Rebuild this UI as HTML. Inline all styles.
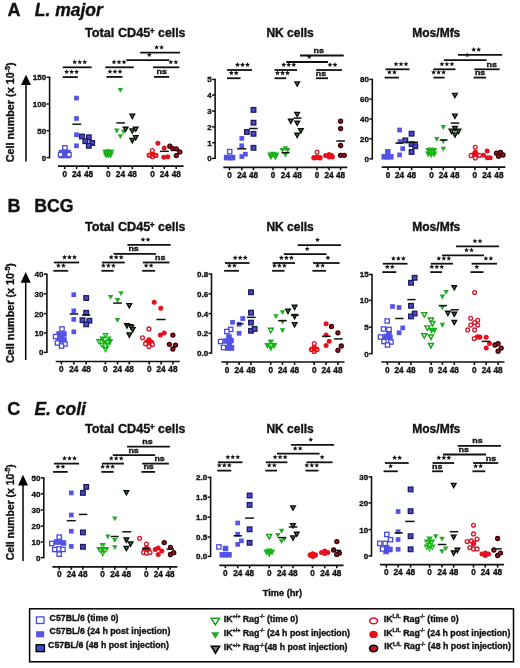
<!DOCTYPE html>
<html><head><meta charset="utf-8"><style>
html,body{margin:0;padding:0;background:#fff;}
body{width:520px;height:668px;overflow:hidden;}
svg{display:block;will-change:transform;}
text{font-family:"Liberation Sans", sans-serif;stroke:#111;stroke-width:0.35px;paint-order:stroke;}
</style></head><body>
<svg width="520" height="668" viewBox="0 0 520 668" font-family='"Liberation Sans", sans-serif' fill="#111">
<rect width="520" height="668" fill="#fff"/>
<text x="7.6" y="16.3" font-size="18" text-anchor="start" font-weight="bold" font-style="normal" >A</text>
<text x="34.8" y="16.4" font-size="17.5" text-anchor="start" font-weight="bold" font-style="italic" >L. major</text>
<text x="7.6" y="212.1" font-size="18" text-anchor="start" font-weight="bold" font-style="normal" >B</text>
<text x="34.3" y="212.1" font-size="17.7" text-anchor="start" font-weight="bold" font-style="normal" >BCG</text>
<text x="7.3" y="415.4" font-size="18" text-anchor="start" font-weight="bold" font-style="normal" >C</text>
<text x="34.4" y="415.4" font-size="17.5" text-anchor="start" font-weight="bold" font-style="italic" >E. coli</text>
<text x="85" y="37" font-size="12.7" text-anchor="start" font-weight="bold" font-style="normal" >Total CD45</text>
<text x="149.8" y="33.9" font-size="8.4" text-anchor="start" font-weight="bold" font-style="normal" >+</text>
<text x="158.1" y="37" font-size="12.3" text-anchor="start" font-weight="bold" font-style="normal" >cells</text>
<text x="290.1" y="36.6" font-size="12" text-anchor="middle" font-weight="bold" font-style="normal" >NK cells</text>
<text x="436.3" y="36.6" font-size="12" text-anchor="middle" font-weight="bold" font-style="normal" >Mos/Mfs</text>
<text x="85" y="230.9" font-size="12.7" text-anchor="start" font-weight="bold" font-style="normal" >Total CD45</text>
<text x="149.8" y="227.8" font-size="8.4" text-anchor="start" font-weight="bold" font-style="normal" >+</text>
<text x="158.1" y="230.9" font-size="12.3" text-anchor="start" font-weight="bold" font-style="normal" >cells</text>
<text x="290.1" y="230.5" font-size="12" text-anchor="middle" font-weight="bold" font-style="normal" >NK cells</text>
<text x="436.3" y="230.5" font-size="12" text-anchor="middle" font-weight="bold" font-style="normal" >Mos/Mfs</text>
<text x="85" y="433" font-size="12.7" text-anchor="start" font-weight="bold" font-style="normal" >Total CD45</text>
<text x="149.8" y="429.9" font-size="8.4" text-anchor="start" font-weight="bold" font-style="normal" >+</text>
<text x="158.1" y="433" font-size="12.3" text-anchor="start" font-weight="bold" font-style="normal" >cells</text>
<text x="290.1" y="432.6" font-size="12" text-anchor="middle" font-weight="bold" font-style="normal" >NK cells</text>
<text x="436.3" y="432.6" font-size="12" text-anchor="middle" font-weight="bold" font-style="normal" >Mos/Mfs</text>
<line x1="49.6" y1="76.6" x2="49.6" y2="158.3" stroke="#111" stroke-width="1.6"/>
<line x1="46.6" y1="77.3" x2="49.6" y2="77.3" stroke="#111" stroke-width="1.5"/>
<text x="46.2" y="80.2" font-size="8" text-anchor="end" font-weight="bold" font-style="normal" >150</text>
<line x1="46.6" y1="104" x2="49.6" y2="104" stroke="#111" stroke-width="1.5"/>
<text x="46.2" y="106.9" font-size="8" text-anchor="end" font-weight="bold" font-style="normal" >100</text>
<line x1="46.6" y1="130.7" x2="49.6" y2="130.7" stroke="#111" stroke-width="1.5"/>
<text x="46.2" y="133.6" font-size="8" text-anchor="end" font-weight="bold" font-style="normal" >50</text>
<line x1="46.6" y1="157.6" x2="49.6" y2="157.6" stroke="#111" stroke-width="1.5"/>
<text x="46.2" y="160.5" font-size="8" text-anchor="end" font-weight="bold" font-style="normal" >0</text>
<line x1="58" y1="166.2" x2="183.6" y2="166.2" stroke="#111" stroke-width="1.7"/>
<line x1="64.7" y1="166.2" x2="64.7" y2="169.1" stroke="#111" stroke-width="1.6"/>
<text x="64.7" y="176.7" font-size="8.2" text-anchor="middle" font-weight="bold" font-style="normal" >0</text>
<line x1="76.6" y1="166.2" x2="76.6" y2="169.1" stroke="#111" stroke-width="1.6"/>
<text x="76.6" y="176.7" font-size="8.2" text-anchor="middle" font-weight="bold" font-style="normal" >24</text>
<line x1="88.5" y1="166.2" x2="88.5" y2="169.1" stroke="#111" stroke-width="1.6"/>
<text x="88.5" y="176.7" font-size="8.2" text-anchor="middle" font-weight="bold" font-style="normal" >48</text>
<line x1="108.2" y1="166.2" x2="108.2" y2="169.1" stroke="#111" stroke-width="1.6"/>
<text x="108.2" y="176.7" font-size="8.2" text-anchor="middle" font-weight="bold" font-style="normal" >0</text>
<line x1="120.4" y1="166.2" x2="120.4" y2="169.1" stroke="#111" stroke-width="1.6"/>
<text x="120.4" y="176.7" font-size="8.2" text-anchor="middle" font-weight="bold" font-style="normal" >24</text>
<line x1="132.3" y1="166.2" x2="132.3" y2="169.1" stroke="#111" stroke-width="1.6"/>
<text x="132.3" y="176.7" font-size="8.2" text-anchor="middle" font-weight="bold" font-style="normal" >48</text>
<line x1="152.5" y1="166.2" x2="152.5" y2="169.1" stroke="#111" stroke-width="1.6"/>
<text x="152.5" y="176.7" font-size="8.2" text-anchor="middle" font-weight="bold" font-style="normal" >0</text>
<line x1="164.3" y1="166.2" x2="164.3" y2="169.1" stroke="#111" stroke-width="1.6"/>
<text x="164.3" y="176.7" font-size="8.2" text-anchor="middle" font-weight="bold" font-style="normal" >24</text>
<line x1="176.2" y1="166.2" x2="176.2" y2="169.1" stroke="#111" stroke-width="1.6"/>
<text x="176.2" y="176.7" font-size="8.2" text-anchor="middle" font-weight="bold" font-style="normal" >48</text>
<rect x="58.75" y="149.75" width="5.5" height="5.5" fill="#5252e4"/>
<rect x="61.95" y="149.75" width="5.5" height="5.5" fill="#5252e4"/>
<rect x="65.25" y="149.75" width="5.5" height="5.5" fill="#5252e4"/>
<rect x="58.75" y="152.75" width="5.5" height="5.5" fill="#5252e4"/>
<rect x="61.95" y="152.75" width="5.5" height="5.5" fill="#5252e4"/>
<rect x="65.25" y="152.75" width="5.5" height="5.5" fill="#5252e4"/>
<rect x="62.75" y="145.65" width="4.3" height="4.3" fill="#fff" stroke="#4a4ad8" stroke-width="1.3"/>
<rect x="58.45" y="152.45" width="4.3" height="4.3" fill="#fff" stroke="#4a4ad8" stroke-width="1.3"/>
<rect x="66.85" y="152.45" width="4.3" height="4.3" fill="#fff" stroke="#4a4ad8" stroke-width="1.3"/>
<rect x="74.15" y="95.75" width="4.7" height="4.7" fill="#5454e6"/>
<rect x="74.15" y="116.15" width="4.7" height="4.7" fill="#5454e6"/>
<rect x="74.15" y="132.35" width="4.7" height="4.7" fill="#5454e6"/>
<rect x="74.15" y="143.45" width="4.7" height="4.7" fill="#5454e6"/>
<rect x="79.6" y="134.2" width="4.6" height="4.6" fill="#4a4ad0" stroke="#1c1c5a" stroke-width="1.3"/>
<rect x="86.5" y="135" width="4.6" height="4.6" fill="#4a4ad0" stroke="#1c1c5a" stroke-width="1.3"/>
<rect x="83" y="138.9" width="4.6" height="4.6" fill="#4a4ad0" stroke="#1c1c5a" stroke-width="1.3"/>
<rect x="89.9" y="140.7" width="4.6" height="4.6" fill="#4a4ad0" stroke="#1c1c5a" stroke-width="1.3"/>
<rect x="86.5" y="143.5" width="4.6" height="4.6" fill="#4a4ad0" stroke="#1c1c5a" stroke-width="1.3"/>
<polygon points="102.3,149.8 108.7,149.8 105.5,155.6" fill="#16b416" stroke="none" stroke-width="0" stroke-linejoin="miter"/>
<polygon points="105.1,149.3 111.5,149.3 108.3,155.1" fill="#16b416" stroke="none" stroke-width="0" stroke-linejoin="miter"/>
<polygon points="107.9,149.8 114.3,149.8 111.1,155.6" fill="#16b416" stroke="none" stroke-width="0" stroke-linejoin="miter"/>
<polygon points="102.8,152.6 109.2,152.6 106,158.4" fill="#16b416" stroke="none" stroke-width="0" stroke-linejoin="miter"/>
<polygon points="107.3,152.6 113.7,152.6 110.5,158.4" fill="#16b416" stroke="none" stroke-width="0" stroke-linejoin="miter"/>
<polygon points="105.1,152.7 111.5,152.7 108.3,158.5" fill="#16b416" stroke="none" stroke-width="0" stroke-linejoin="miter"/>
<polygon points="117.7,87.95 123.1,87.95 120.4,92.85" fill="#22aa22" stroke="none" stroke-width="0" stroke-linejoin="miter"/>
<polygon points="114.1,128.55 119.5,128.55 116.8,133.45" fill="#22aa22" stroke="none" stroke-width="0" stroke-linejoin="miter"/>
<polygon points="120.9,129.65 126.3,129.65 123.6,134.55" fill="#22aa22" stroke="none" stroke-width="0" stroke-linejoin="miter"/>
<polygon points="117.7,134.15 123.1,134.15 120.4,139.05" fill="#22aa22" stroke="none" stroke-width="0" stroke-linejoin="miter"/>
<polygon points="130,114.3 134.6,114.3 132.3,118.5" fill="#5f825f" stroke="#061006" stroke-width="1.4" stroke-linejoin="miter"/>
<polygon points="123.3,127.2 127.9,127.2 125.6,131.4" fill="#5f825f" stroke="#061006" stroke-width="1.4" stroke-linejoin="miter"/>
<polygon points="130,128.9 134.6,128.9 132.3,133.1" fill="#5f825f" stroke="#061006" stroke-width="1.4" stroke-linejoin="miter"/>
<polygon points="133.4,127.2 138,127.2 135.7,131.4" fill="#5f825f" stroke="#061006" stroke-width="1.4" stroke-linejoin="miter"/>
<polygon points="133.4,135.6 138,135.6 135.7,139.8" fill="#5f825f" stroke="#061006" stroke-width="1.4" stroke-linejoin="miter"/>
<polygon points="130,138.5 134.6,138.5 132.3,142.7" fill="#5f825f" stroke="#061006" stroke-width="1.4" stroke-linejoin="miter"/>
<circle cx="149.3" cy="155.2" r="2.7" fill="#ea1018"/>
<circle cx="152.5" cy="154" r="2.7" fill="#ea1018"/>
<circle cx="155.8" cy="155.4" r="2.7" fill="#ea1018"/>
<circle cx="152.5" cy="156.6" r="2.7" fill="#ea1018"/>
<circle cx="149.2" cy="155.4" r="0.8" fill="#fff" opacity="0.85"/>
<circle cx="155.9" cy="155.6" r="0.8" fill="#fff" opacity="0.85"/>
<circle cx="152.5" cy="157.2" r="0.8" fill="#fff" opacity="0.85"/>
<circle cx="152.3" cy="150.6" r="1.9" fill="#fff" stroke="#d41428" stroke-width="1.3"/>
<circle cx="157.9" cy="143.2" r="2.5" fill="#e61020"/>
<circle cx="164.2" cy="148" r="2.5" fill="#e61020"/>
<circle cx="163.8" cy="157.3" r="2.5" fill="#e61020"/>
<circle cx="167.7" cy="156.8" r="2.5" fill="#e61020"/>
<circle cx="169.8" cy="146.2" r="2.0" fill="#a81424" stroke="#300004" stroke-width="1.3"/>
<circle cx="172.8" cy="148.7" r="2.0" fill="#a81424" stroke="#300004" stroke-width="1.3"/>
<circle cx="176.3" cy="148.8" r="2.0" fill="#a81424" stroke="#300004" stroke-width="1.3"/>
<circle cx="179.8" cy="151.9" r="2.0" fill="#a81424" stroke="#300004" stroke-width="1.3"/>
<circle cx="176.3" cy="155.6" r="2.0" fill="#a81424" stroke="#300004" stroke-width="1.3"/>
<line x1="72.4" y1="124.2" x2="81.2" y2="124.2" stroke="#111" stroke-width="1.5"/>
<line x1="116.3" y1="122.9" x2="124.9" y2="122.9" stroke="#111" stroke-width="1.5"/>
<line x1="160.1" y1="151.3" x2="168.8" y2="151.3" stroke="#111" stroke-width="1.5"/>
<line x1="62.7" y1="67.3" x2="91.7" y2="67.3" stroke="#111" stroke-width="1.8"/>
<polygon points="74.7,59.5 75.38,61.17 77.17,61.3 75.79,62.46 76.23,64.2 74.7,63.25 73.17,64.2 73.61,62.46 72.23,61.3 74.02,61.17" fill="#111"/>
<polygon points="79.7,59.5 80.38,61.17 82.17,61.3 80.79,62.46 81.23,64.2 79.7,63.25 78.17,64.2 78.61,62.46 77.23,61.3 79.02,61.17" fill="#111"/>
<polygon points="84.7,59.5 85.38,61.17 87.17,61.3 85.79,62.46 86.23,64.2 84.7,63.25 83.17,64.2 83.61,62.46 82.23,61.3 84.02,61.17" fill="#111"/>
<line x1="62.7" y1="77.1" x2="77.9" y2="77.1" stroke="#111" stroke-width="1.8"/>
<polygon points="66.6,69.3 67.28,70.97 69.07,71.1 67.69,72.26 68.13,74 66.6,73.05 65.07,74 65.51,72.26 64.13,71.1 65.92,70.97" fill="#111"/>
<polygon points="71.6,69.3 72.28,70.97 74.07,71.1 72.69,72.26 73.13,74 71.6,73.05 70.07,74 70.51,72.26 69.13,71.1 70.92,70.97" fill="#111"/>
<polygon points="76.6,69.3 77.28,70.97 79.07,71.1 77.69,72.26 78.13,74 76.6,73.05 75.07,74 75.51,72.26 74.13,71.1 75.92,70.97" fill="#111"/>
<line x1="105.2" y1="67.3" x2="133.7" y2="67.3" stroke="#111" stroke-width="1.8"/>
<polygon points="114,59.5 114.68,61.17 116.47,61.3 115.09,62.46 115.53,64.2 114,63.25 112.47,64.2 112.91,62.46 111.53,61.3 113.32,61.17" fill="#111"/>
<polygon points="119,59.5 119.68,61.17 121.47,61.3 120.09,62.46 120.53,64.2 119,63.25 117.47,64.2 117.91,62.46 116.53,61.3 118.32,61.17" fill="#111"/>
<polygon points="124,59.5 124.68,61.17 126.47,61.3 125.09,62.46 125.53,64.2 124,63.25 122.47,64.2 122.91,62.46 121.53,61.3 123.32,61.17" fill="#111"/>
<line x1="106.4" y1="76.9" x2="122.5" y2="76.9" stroke="#111" stroke-width="1.8"/>
<polygon points="110,69.1 110.68,70.77 112.47,70.9 111.09,72.06 111.53,73.8 110,72.85 108.47,73.8 108.91,72.06 107.53,70.9 109.32,70.77" fill="#111"/>
<polygon points="115,69.1 115.68,70.77 117.47,70.9 116.09,72.06 116.53,73.8 115,72.85 113.47,73.8 113.91,72.06 112.53,70.9 114.32,70.77" fill="#111"/>
<polygon points="120,69.1 120.68,70.77 122.47,70.9 121.09,72.06 121.53,73.8 120,72.85 118.47,73.8 118.91,72.06 117.53,70.9 119.32,70.77" fill="#111"/>
<line x1="153.1" y1="67.3" x2="179.3" y2="67.3" stroke="#111" stroke-width="1.8"/>
<polygon points="170.8,59.5 171.48,61.17 173.27,61.3 171.89,62.46 172.33,64.2 170.8,63.25 169.27,64.2 169.71,62.46 168.33,61.3 170.12,61.17" fill="#111"/>
<polygon points="175.8,59.5 176.48,61.17 178.27,61.3 176.89,62.46 177.33,64.2 175.8,63.25 174.27,64.2 174.71,62.46 173.33,61.3 175.12,61.17" fill="#111"/>
<line x1="154" y1="76.9" x2="169.2" y2="76.9" stroke="#111" stroke-width="1.8"/>
<text transform="translate(161.8,74.4) scale(1.13,1)" font-size="7.9" text-anchor="middle" font-weight="bold">ns</text>
<line x1="126.3" y1="60.1" x2="169.2" y2="60.1" stroke="#111" stroke-width="1.8"/>
<polygon points="149.3,52.3 149.98,53.97 151.77,54.1 150.39,55.26 150.83,57 149.3,56.05 147.77,57 148.21,55.26 146.83,54.1 148.62,53.97" fill="#111"/>
<line x1="140.2" y1="52.6" x2="180" y2="52.6" stroke="#111" stroke-width="1.8"/>
<polygon points="156.6,44.8 157.28,46.47 159.07,46.6 157.69,47.76 158.13,49.5 156.6,48.55 155.07,49.5 155.51,47.76 154.13,46.6 155.92,46.47" fill="#111"/>
<polygon points="161.6,44.8 162.28,46.47 164.07,46.6 162.69,47.76 163.13,49.5 161.6,48.55 160.07,49.5 160.51,47.76 159.13,46.6 160.92,46.47" fill="#111"/>
<line x1="215.1" y1="78.7" x2="215.1" y2="159.1" stroke="#111" stroke-width="1.6"/>
<line x1="212.1" y1="79.4" x2="215.1" y2="79.4" stroke="#111" stroke-width="1.5"/>
<text x="211.7" y="82.3" font-size="8" text-anchor="end" font-weight="bold" font-style="normal" >5</text>
<line x1="212.1" y1="95.1" x2="215.1" y2="95.1" stroke="#111" stroke-width="1.5"/>
<text x="211.7" y="98" font-size="8" text-anchor="end" font-weight="bold" font-style="normal" >4</text>
<line x1="212.1" y1="111.1" x2="215.1" y2="111.1" stroke="#111" stroke-width="1.5"/>
<text x="211.7" y="114" font-size="8" text-anchor="end" font-weight="bold" font-style="normal" >3</text>
<line x1="212.1" y1="126.9" x2="215.1" y2="126.9" stroke="#111" stroke-width="1.5"/>
<text x="211.7" y="129.8" font-size="8" text-anchor="end" font-weight="bold" font-style="normal" >2</text>
<line x1="212.1" y1="142.7" x2="215.1" y2="142.7" stroke="#111" stroke-width="1.5"/>
<text x="211.7" y="145.6" font-size="8" text-anchor="end" font-weight="bold" font-style="normal" >1</text>
<line x1="212.1" y1="158.4" x2="215.1" y2="158.4" stroke="#111" stroke-width="1.5"/>
<text x="211.7" y="161.3" font-size="8" text-anchor="end" font-weight="bold" font-style="normal" >0</text>
<line x1="223.3" y1="167.3" x2="347.3" y2="167.3" stroke="#111" stroke-width="1.7"/>
<line x1="229.5" y1="167.3" x2="229.5" y2="170.2" stroke="#111" stroke-width="1.6"/>
<text x="229.5" y="177.8" font-size="8.2" text-anchor="middle" font-weight="bold" font-style="normal" >0</text>
<line x1="241.8" y1="167.3" x2="241.8" y2="170.2" stroke="#111" stroke-width="1.6"/>
<text x="241.8" y="177.8" font-size="8.2" text-anchor="middle" font-weight="bold" font-style="normal" >24</text>
<line x1="253.5" y1="167.3" x2="253.5" y2="170.2" stroke="#111" stroke-width="1.6"/>
<text x="253.5" y="177.8" font-size="8.2" text-anchor="middle" font-weight="bold" font-style="normal" >48</text>
<line x1="273" y1="167.3" x2="273" y2="170.2" stroke="#111" stroke-width="1.6"/>
<text x="273" y="177.8" font-size="8.2" text-anchor="middle" font-weight="bold" font-style="normal" >0</text>
<line x1="285.4" y1="167.3" x2="285.4" y2="170.2" stroke="#111" stroke-width="1.6"/>
<text x="285.4" y="177.8" font-size="8.2" text-anchor="middle" font-weight="bold" font-style="normal" >24</text>
<line x1="297.2" y1="167.3" x2="297.2" y2="170.2" stroke="#111" stroke-width="1.6"/>
<text x="297.2" y="177.8" font-size="8.2" text-anchor="middle" font-weight="bold" font-style="normal" >48</text>
<line x1="317" y1="167.3" x2="317" y2="170.2" stroke="#111" stroke-width="1.6"/>
<text x="317" y="177.8" font-size="8.2" text-anchor="middle" font-weight="bold" font-style="normal" >0</text>
<line x1="329.1" y1="167.3" x2="329.1" y2="170.2" stroke="#111" stroke-width="1.6"/>
<text x="329.1" y="177.8" font-size="8.2" text-anchor="middle" font-weight="bold" font-style="normal" >24</text>
<line x1="340.6" y1="167.3" x2="340.6" y2="170.2" stroke="#111" stroke-width="1.6"/>
<text x="340.6" y="177.8" font-size="8.2" text-anchor="middle" font-weight="bold" font-style="normal" >48</text>
<rect x="223.85" y="154.85" width="5.5" height="5.5" fill="#5252e4"/>
<rect x="226.85" y="154.85" width="5.5" height="5.5" fill="#5252e4"/>
<rect x="229.85" y="154.85" width="5.5" height="5.5" fill="#5252e4"/>
<rect x="227.55" y="149.45" width="4.3" height="4.3" fill="#fff" stroke="#4a4ad8" stroke-width="1.3"/>
<rect x="239.45" y="136.05" width="4.7" height="4.7" fill="#5454e6"/>
<rect x="239.45" y="143.45" width="4.7" height="4.7" fill="#5454e6"/>
<rect x="239.45" y="154.15" width="4.7" height="4.7" fill="#5454e6"/>
<rect x="243.05" y="151.85" width="4.7" height="4.7" fill="#5454e6"/>
<rect x="244.6" y="129.6" width="4.6" height="4.6" fill="#4a4ad0" stroke="#1c1c5a" stroke-width="1.3"/>
<rect x="251.2" y="107.6" width="4.6" height="4.6" fill="#4a4ad0" stroke="#1c1c5a" stroke-width="1.3"/>
<rect x="251.2" y="120.4" width="4.6" height="4.6" fill="#4a4ad0" stroke="#1c1c5a" stroke-width="1.3"/>
<rect x="251.2" y="131.5" width="4.6" height="4.6" fill="#4a4ad0" stroke="#1c1c5a" stroke-width="1.3"/>
<rect x="251.2" y="145.5" width="4.6" height="4.6" fill="#4a4ad0" stroke="#1c1c5a" stroke-width="1.3"/>
<polygon points="270,151.7 276.4,151.7 273.2,157.5" fill="#16b416" stroke="none" stroke-width="0" stroke-linejoin="miter"/>
<polygon points="267.2,152.5 273.6,152.5 270.4,158.3" fill="#16b416" stroke="none" stroke-width="0" stroke-linejoin="miter"/>
<polygon points="272.8,152.5 279.2,152.5 276,158.3" fill="#16b416" stroke="none" stroke-width="0" stroke-linejoin="miter"/>
<polygon points="267.8,154.5 274.2,154.5 271,160.3" fill="#16b416" stroke="none" stroke-width="0" stroke-linejoin="miter"/>
<polygon points="272.2,154.5 278.6,154.5 275.4,160.3" fill="#16b416" stroke="none" stroke-width="0" stroke-linejoin="miter"/>
<polygon points="282.7,146.35 288.1,146.35 285.4,151.25" fill="#22aa22" stroke="none" stroke-width="0" stroke-linejoin="miter"/>
<polygon points="279.6,147.95 285,147.95 282.3,152.85" fill="#22aa22" stroke="none" stroke-width="0" stroke-linejoin="miter"/>
<polygon points="285,147.95 290.4,147.95 287.7,152.85" fill="#22aa22" stroke="none" stroke-width="0" stroke-linejoin="miter"/>
<polygon points="282.7,152.55 288.1,152.55 285.4,157.45" fill="#22aa22" stroke="none" stroke-width="0" stroke-linejoin="miter"/>
<polygon points="294.9,81.9 299.5,81.9 297.2,86.1" fill="#5f825f" stroke="#061006" stroke-width="1.4" stroke-linejoin="miter"/>
<polygon points="294.9,112.4 299.5,112.4 297.2,116.6" fill="#5f825f" stroke="#061006" stroke-width="1.4" stroke-linejoin="miter"/>
<polygon points="288.5,119.1 293.1,119.1 290.8,123.3" fill="#5f825f" stroke="#061006" stroke-width="1.4" stroke-linejoin="miter"/>
<polygon points="294.9,121.2 299.5,121.2 297.2,125.4" fill="#5f825f" stroke="#061006" stroke-width="1.4" stroke-linejoin="miter"/>
<polygon points="298.6,128.6 303.2,128.6 300.9,132.8" fill="#5f825f" stroke="#061006" stroke-width="1.4" stroke-linejoin="miter"/>
<polygon points="294.9,133.3 299.5,133.3 297.2,137.5" fill="#5f825f" stroke="#061006" stroke-width="1.4" stroke-linejoin="miter"/>
<circle cx="314" cy="157.7" r="2.7" fill="#ea1018"/>
<circle cx="317" cy="157.5" r="2.7" fill="#ea1018"/>
<circle cx="320" cy="157.7" r="2.7" fill="#ea1018"/>
<circle cx="317.1" cy="152.2" r="1.9" fill="#fff" stroke="#d41428" stroke-width="1.3"/>
<circle cx="325.6" cy="155.6" r="2.5" fill="#e61020"/>
<circle cx="329" cy="154.6" r="2.5" fill="#e61020"/>
<circle cx="331.6" cy="155.4" r="2.5" fill="#e61020"/>
<circle cx="329" cy="157" r="2.5" fill="#e61020"/>
<circle cx="332.4" cy="157" r="2.5" fill="#e61020"/>
<circle cx="340.6" cy="121.2" r="2.0" fill="#a81424" stroke="#300004" stroke-width="1.3"/>
<circle cx="340.6" cy="128.6" r="2.0" fill="#a81424" stroke="#300004" stroke-width="1.3"/>
<circle cx="340.6" cy="145.5" r="2.0" fill="#a81424" stroke="#300004" stroke-width="1.3"/>
<circle cx="340.6" cy="155.3" r="2.0" fill="#a81424" stroke="#300004" stroke-width="1.3"/>
<circle cx="344.3" cy="155.3" r="2.0" fill="#a81424" stroke="#300004" stroke-width="1.3"/>
<line x1="237.2" y1="148.8" x2="246.2" y2="148.8" stroke="#111" stroke-width="1.5"/>
<line x1="249.2" y1="128.5" x2="257.7" y2="128.5" stroke="#111" stroke-width="1.5"/>
<line x1="281.5" y1="152.7" x2="289.5" y2="152.7" stroke="#111" stroke-width="1.5"/>
<line x1="293.5" y1="118.1" x2="301.5" y2="118.1" stroke="#111" stroke-width="1.5"/>
<line x1="336.3" y1="141" x2="344.9" y2="141" stroke="#111" stroke-width="1.5"/>
<line x1="227" y1="70" x2="252" y2="70" stroke="#111" stroke-width="1.8"/>
<polygon points="237.5,62.2 238.18,63.87 239.97,64 238.59,65.16 239.03,66.9 237.5,65.95 235.97,66.9 236.41,65.16 235.03,64 236.82,63.87" fill="#111"/>
<polygon points="242.5,62.2 243.18,63.87 244.97,64 243.59,65.16 244.03,66.9 242.5,65.95 240.97,66.9 241.41,65.16 240.03,64 241.82,63.87" fill="#111"/>
<polygon points="247.5,62.2 248.18,63.87 249.97,64 248.59,65.16 249.03,66.9 247.5,65.95 245.97,66.9 246.41,65.16 245.03,64 246.82,63.87" fill="#111"/>
<line x1="227" y1="78.25" x2="240.5" y2="78.25" stroke="#111" stroke-width="1.8"/>
<polygon points="231.25,70.45 231.93,72.12 233.72,72.25 232.34,73.41 232.78,75.15 231.25,74.2 229.72,75.15 230.16,73.41 228.78,72.25 230.57,72.12" fill="#111"/>
<polygon points="236.25,70.45 236.93,72.12 238.72,72.25 237.34,73.41 237.78,75.15 236.25,74.2 234.72,75.15 235.16,73.41 233.78,72.25 235.57,72.12" fill="#111"/>
<line x1="274.5" y1="70" x2="297" y2="70" stroke="#111" stroke-width="1.8"/>
<polygon points="283.75,62.2 284.43,63.87 286.22,64 284.84,65.16 285.28,66.9 283.75,65.95 282.22,66.9 282.66,65.16 281.28,64 283.07,63.87" fill="#111"/>
<polygon points="288.75,62.2 289.43,63.87 291.22,64 289.84,65.16 290.28,66.9 288.75,65.95 287.22,66.9 287.66,65.16 286.28,64 288.07,63.87" fill="#111"/>
<polygon points="293.75,62.2 294.43,63.87 296.22,64 294.84,65.16 295.28,66.9 293.75,65.95 292.22,66.9 292.66,65.16 291.28,64 293.07,63.87" fill="#111"/>
<line x1="274.5" y1="78.25" x2="286.25" y2="78.25" stroke="#111" stroke-width="1.8"/>
<polygon points="277.5,70.45 278.18,72.12 279.97,72.25 278.59,73.41 279.03,75.15 277.5,74.2 275.97,75.15 276.41,73.41 275.03,72.25 276.82,72.12" fill="#111"/>
<polygon points="282.5,70.45 283.18,72.12 284.97,72.25 283.59,73.41 284.03,75.15 282.5,74.2 280.97,75.15 281.41,73.41 280.03,72.25 281.82,72.12" fill="#111"/>
<polygon points="287.5,70.45 288.18,72.12 289.97,72.25 288.59,73.41 289.03,75.15 287.5,74.2 285.97,75.15 286.41,73.41 285.03,72.25 286.82,72.12" fill="#111"/>
<line x1="316.25" y1="70" x2="342" y2="70" stroke="#111" stroke-width="1.8"/>
<polygon points="330,62.2 330.68,63.87 332.47,64 331.09,65.16 331.53,66.9 330,65.95 328.47,66.9 328.91,65.16 327.53,64 329.32,63.87" fill="#111"/>
<polygon points="335,62.2 335.68,63.87 337.47,64 336.09,65.16 336.53,66.9 335,65.95 333.47,66.9 333.91,65.16 332.53,64 334.32,63.87" fill="#111"/>
<line x1="316" y1="78.25" x2="328" y2="78.25" stroke="#111" stroke-width="1.8"/>
<text transform="translate(321,75.75) scale(1.13,1)" font-size="7.9" text-anchor="middle" font-weight="bold">ns</text>
<line x1="286.25" y1="62" x2="328" y2="62" stroke="#111" stroke-width="1.8"/>
<polygon points="309.25,54.2 309.93,55.87 311.72,56 310.34,57.16 310.78,58.9 309.25,57.95 307.72,58.9 308.16,57.16 306.78,56 308.57,55.87" fill="#111"/>
<line x1="300" y1="55.5" x2="343.75" y2="55.5" stroke="#111" stroke-width="1.8"/>
<text transform="translate(318.75,53) scale(1.13,1)" font-size="7.9" text-anchor="middle" font-weight="bold">ns</text>
<line x1="372.3" y1="78.7" x2="372.3" y2="159.5" stroke="#111" stroke-width="1.6"/>
<line x1="369.3" y1="79.4" x2="372.3" y2="79.4" stroke="#111" stroke-width="1.5"/>
<text x="368.9" y="82.3" font-size="8" text-anchor="end" font-weight="bold" font-style="normal" >80</text>
<line x1="369.3" y1="99.1" x2="372.3" y2="99.1" stroke="#111" stroke-width="1.5"/>
<text x="368.9" y="102" font-size="8" text-anchor="end" font-weight="bold" font-style="normal" >60</text>
<line x1="369.3" y1="119" x2="372.3" y2="119" stroke="#111" stroke-width="1.5"/>
<text x="368.9" y="121.9" font-size="8" text-anchor="end" font-weight="bold" font-style="normal" >40</text>
<line x1="369.3" y1="138.7" x2="372.3" y2="138.7" stroke="#111" stroke-width="1.5"/>
<text x="368.9" y="141.6" font-size="8" text-anchor="end" font-weight="bold" font-style="normal" >20</text>
<line x1="369.3" y1="158.8" x2="372.3" y2="158.8" stroke="#111" stroke-width="1.5"/>
<text x="368.9" y="161.7" font-size="8" text-anchor="end" font-weight="bold" font-style="normal" >0</text>
<line x1="381.7" y1="167.2" x2="505.4" y2="167.2" stroke="#111" stroke-width="1.7"/>
<line x1="388" y1="167.2" x2="388" y2="170.1" stroke="#111" stroke-width="1.6"/>
<text x="388" y="177.7" font-size="8.2" text-anchor="middle" font-weight="bold" font-style="normal" >0</text>
<line x1="399.6" y1="167.2" x2="399.6" y2="170.1" stroke="#111" stroke-width="1.6"/>
<text x="399.6" y="177.7" font-size="8.2" text-anchor="middle" font-weight="bold" font-style="normal" >24</text>
<line x1="411.6" y1="167.2" x2="411.6" y2="170.1" stroke="#111" stroke-width="1.6"/>
<text x="411.6" y="177.7" font-size="8.2" text-anchor="middle" font-weight="bold" font-style="normal" >48</text>
<line x1="431.5" y1="167.2" x2="431.5" y2="170.1" stroke="#111" stroke-width="1.6"/>
<text x="431.5" y="177.7" font-size="8.2" text-anchor="middle" font-weight="bold" font-style="normal" >0</text>
<line x1="443.3" y1="167.2" x2="443.3" y2="170.1" stroke="#111" stroke-width="1.6"/>
<text x="443.3" y="177.7" font-size="8.2" text-anchor="middle" font-weight="bold" font-style="normal" >24</text>
<line x1="454.9" y1="167.2" x2="454.9" y2="170.1" stroke="#111" stroke-width="1.6"/>
<text x="454.9" y="177.7" font-size="8.2" text-anchor="middle" font-weight="bold" font-style="normal" >48</text>
<line x1="474.9" y1="167.2" x2="474.9" y2="170.1" stroke="#111" stroke-width="1.6"/>
<text x="474.9" y="177.7" font-size="8.2" text-anchor="middle" font-weight="bold" font-style="normal" >0</text>
<line x1="486.8" y1="167.2" x2="486.8" y2="170.1" stroke="#111" stroke-width="1.6"/>
<text x="486.8" y="177.7" font-size="8.2" text-anchor="middle" font-weight="bold" font-style="normal" >24</text>
<line x1="498.9" y1="167.2" x2="498.9" y2="170.1" stroke="#111" stroke-width="1.6"/>
<text x="498.9" y="177.7" font-size="8.2" text-anchor="middle" font-weight="bold" font-style="normal" >48</text>
<rect x="385.05" y="149.05" width="5.5" height="5.5" fill="#5252e4"/>
<rect x="381.45" y="154.05" width="5.5" height="5.5" fill="#5252e4"/>
<rect x="384.75" y="154.05" width="5.5" height="5.5" fill="#5252e4"/>
<rect x="388.05" y="154.05" width="5.5" height="5.5" fill="#5252e4"/>
<rect x="397.25" y="127.65" width="4.7" height="4.7" fill="#5454e6"/>
<rect x="397.65" y="139.15" width="4.7" height="4.7" fill="#5454e6"/>
<rect x="400.35" y="146.25" width="4.7" height="4.7" fill="#5454e6"/>
<rect x="397.25" y="152.55" width="4.7" height="4.7" fill="#5454e6"/>
<rect x="403" y="138.1" width="4.6" height="4.6" fill="#4a4ad0" stroke="#1c1c5a" stroke-width="1.3"/>
<rect x="409.3" y="131.4" width="4.6" height="4.6" fill="#4a4ad0" stroke="#1c1c5a" stroke-width="1.3"/>
<rect x="409.3" y="141.9" width="4.6" height="4.6" fill="#4a4ad0" stroke="#1c1c5a" stroke-width="1.3"/>
<rect x="413" y="143.9" width="4.6" height="4.6" fill="#4a4ad0" stroke="#1c1c5a" stroke-width="1.3"/>
<rect x="409.3" y="149.7" width="4.6" height="4.6" fill="#4a4ad0" stroke="#1c1c5a" stroke-width="1.3"/>
<polygon points="425.3,147.9 431.7,147.9 428.5,153.7" fill="#16b416" stroke="none" stroke-width="0" stroke-linejoin="miter"/>
<polygon points="428,147.4 434.4,147.4 431.2,153.2" fill="#16b416" stroke="none" stroke-width="0" stroke-linejoin="miter"/>
<polygon points="430.8,147.9 437.2,147.9 434,153.7" fill="#16b416" stroke="none" stroke-width="0" stroke-linejoin="miter"/>
<polygon points="425.1,151.6 431.5,151.6 428.3,157.4" fill="#16b416" stroke="none" stroke-width="0" stroke-linejoin="miter"/>
<polygon points="428,152.1 434.4,152.1 431.2,157.9" fill="#16b416" stroke="none" stroke-width="0" stroke-linejoin="miter"/>
<polygon points="430.9,151.6 437.3,151.6 434.1,157.4" fill="#16b416" stroke="none" stroke-width="0" stroke-linejoin="miter"/>
<polygon points="440.6,125.05 446,125.05 443.3,129.95" fill="#22aa22" stroke="none" stroke-width="0" stroke-linejoin="miter"/>
<polygon points="434.1,137.05 439.5,137.05 436.8,141.95" fill="#22aa22" stroke="none" stroke-width="0" stroke-linejoin="miter"/>
<polygon points="440.6,139.15 446,139.15 443.3,144.05" fill="#22aa22" stroke="none" stroke-width="0" stroke-linejoin="miter"/>
<polygon points="440.6,146.85 446,146.85 443.3,151.75" fill="#22aa22" stroke="none" stroke-width="0" stroke-linejoin="miter"/>
<polygon points="452.6,93.4 457.2,93.4 454.9,97.6" fill="#5f825f" stroke="#061006" stroke-width="1.4" stroke-linejoin="miter"/>
<polygon points="452.6,114.1 457.2,114.1 454.9,118.3" fill="#5f825f" stroke="#061006" stroke-width="1.4" stroke-linejoin="miter"/>
<polygon points="452.7,126.5 457.3,126.5 455,130.7" fill="#5f825f" stroke="#061006" stroke-width="1.4" stroke-linejoin="miter"/>
<polygon points="449.2,129.3 453.8,129.3 451.5,133.5" fill="#5f825f" stroke="#061006" stroke-width="1.4" stroke-linejoin="miter"/>
<polygon points="456.2,129.3 460.8,129.3 458.5,133.5" fill="#5f825f" stroke="#061006" stroke-width="1.4" stroke-linejoin="miter"/>
<polygon points="452.7,132.9 457.3,132.9 455,137.1" fill="#5f825f" stroke="#061006" stroke-width="1.4" stroke-linejoin="miter"/>
<circle cx="475.3" cy="152.5" r="2.7" fill="#ea1018"/>
<circle cx="473" cy="155" r="2.7" fill="#ea1018"/>
<circle cx="477.6" cy="155" r="2.7" fill="#ea1018"/>
<circle cx="475.3" cy="156.5" r="2.7" fill="#ea1018"/>
<circle cx="475.3" cy="147.3" r="1.9" fill="#fff" stroke="#d41428" stroke-width="1.3"/>
<circle cx="471" cy="155.6" r="1.9" fill="#fff" stroke="#d41428" stroke-width="1.3"/>
<circle cx="475.3" cy="158" r="1.9" fill="#fff" stroke="#d41428" stroke-width="1.3"/>
<circle cx="479.5" cy="155.6" r="1.9" fill="#fff" stroke="#d41428" stroke-width="1.3"/>
<circle cx="487.2" cy="150.9" r="2.5" fill="#e61020"/>
<circle cx="483.4" cy="155.3" r="2.5" fill="#e61020"/>
<circle cx="487.4" cy="157.8" r="2.5" fill="#e61020"/>
<circle cx="490.2" cy="157.8" r="2.5" fill="#e61020"/>
<circle cx="496.5" cy="153.2" r="2.0" fill="#a81424" stroke="#300004" stroke-width="1.3"/>
<circle cx="500.5" cy="152.5" r="2.0" fill="#a81424" stroke="#300004" stroke-width="1.3"/>
<circle cx="503" cy="155" r="2.0" fill="#a81424" stroke="#300004" stroke-width="1.3"/>
<circle cx="498.5" cy="156.2" r="2.0" fill="#a81424" stroke="#300004" stroke-width="1.3"/>
<line x1="395.4" y1="143.1" x2="403.2" y2="143.1" stroke="#111" stroke-width="1.5"/>
<line x1="406" y1="142.3" x2="418" y2="142.3" stroke="#111" stroke-width="1.5"/>
<line x1="439.7" y1="140" x2="447.6" y2="140" stroke="#111" stroke-width="1.5"/>
<line x1="450.8" y1="123.1" x2="459.3" y2="123.1" stroke="#111" stroke-width="1.5"/>
<line x1="385.4" y1="69.3" x2="409.5" y2="69.3" stroke="#111" stroke-width="1.8"/>
<polygon points="396,61.5 396.68,63.17 398.47,63.3 397.09,64.46 397.53,66.2 396,65.25 394.47,66.2 394.91,64.46 393.53,63.3 395.32,63.17" fill="#111"/>
<polygon points="401,61.5 401.68,63.17 403.47,63.3 402.09,64.46 402.53,66.2 401,65.25 399.47,66.2 399.91,64.46 398.53,63.3 400.32,63.17" fill="#111"/>
<polygon points="406,61.5 406.68,63.17 408.47,63.3 407.09,64.46 407.53,66.2 406,65.25 404.47,66.2 404.91,64.46 403.53,63.3 405.32,63.17" fill="#111"/>
<line x1="384.6" y1="77.6" x2="398.9" y2="77.6" stroke="#111" stroke-width="1.8"/>
<polygon points="389.4,69.8 390.08,71.47 391.87,71.6 390.49,72.76 390.93,74.5 389.4,73.55 387.87,74.5 388.31,72.76 386.93,71.6 388.72,71.47" fill="#111"/>
<polygon points="394.4,69.8 395.08,71.47 396.87,71.6 395.49,72.76 395.93,74.5 394.4,73.55 392.87,74.5 393.31,72.76 391.93,71.6 393.72,71.47" fill="#111"/>
<line x1="433.4" y1="69.3" x2="455.5" y2="69.3" stroke="#111" stroke-width="1.8"/>
<polygon points="441.9,61.5 442.58,63.17 444.37,63.3 442.99,64.46 443.43,66.2 441.9,65.25 440.37,66.2 440.81,64.46 439.43,63.3 441.22,63.17" fill="#111"/>
<polygon points="446.9,61.5 447.58,63.17 449.37,63.3 447.99,64.46 448.43,66.2 446.9,65.25 445.37,66.2 445.81,64.46 444.43,63.3 446.22,63.17" fill="#111"/>
<polygon points="451.9,61.5 452.58,63.17 454.37,63.3 452.99,64.46 453.43,66.2 451.9,65.25 450.37,66.2 450.81,64.46 449.43,63.3 451.22,63.17" fill="#111"/>
<line x1="433.4" y1="77.6" x2="444.6" y2="77.6" stroke="#111" stroke-width="1.8"/>
<polygon points="433.6,69.8 434.28,71.47 436.07,71.6 434.69,72.76 435.13,74.5 433.6,73.55 432.07,74.5 432.51,72.76 431.13,71.6 432.92,71.47" fill="#111"/>
<polygon points="438.6,69.8 439.28,71.47 441.07,71.6 439.69,72.76 440.13,74.5 438.6,73.55 437.07,74.5 437.51,72.76 436.13,71.6 437.92,71.47" fill="#111"/>
<polygon points="443.6,69.8 444.28,71.47 446.07,71.6 444.69,72.76 445.13,74.5 443.6,73.55 442.07,74.5 442.51,72.76 441.13,71.6 442.92,71.47" fill="#111"/>
<line x1="474.4" y1="69.3" x2="499.6" y2="69.3" stroke="#111" stroke-width="1.8"/>
<text transform="translate(491.8,66.8) scale(1.13,1)" font-size="7.9" text-anchor="middle" font-weight="bold">ns</text>
<line x1="473.6" y1="77.6" x2="486.1" y2="77.6" stroke="#111" stroke-width="1.8"/>
<text transform="translate(480.1,75.1) scale(1.13,1)" font-size="7.9" text-anchor="middle" font-weight="bold">ns</text>
<line x1="443.8" y1="60.2" x2="486.6" y2="60.2" stroke="#111" stroke-width="1.8"/>
<polygon points="467.2,52.4 467.88,54.07 469.67,54.2 468.29,55.36 468.73,57.1 467.2,56.15 465.67,57.1 466.11,55.36 464.73,54.2 466.52,54.07" fill="#111"/>
<line x1="458" y1="54.8" x2="502.2" y2="54.8" stroke="#111" stroke-width="1.8"/>
<polygon points="473.7,47 474.38,48.67 476.17,48.8 474.79,49.96 475.23,51.7 473.7,50.75 472.17,51.7 472.61,49.96 471.23,48.8 473.02,48.67" fill="#111"/>
<polygon points="478.7,47 479.38,48.67 481.17,48.8 479.79,49.96 480.23,51.7 478.7,50.75 477.17,51.7 477.61,49.96 476.23,48.8 478.02,48.67" fill="#111"/>
<line x1="46.9" y1="273.4" x2="46.9" y2="353.1" stroke="#111" stroke-width="1.6"/>
<line x1="43.9" y1="274.1" x2="46.9" y2="274.1" stroke="#111" stroke-width="1.5"/>
<text x="43.5" y="277" font-size="8" text-anchor="end" font-weight="bold" font-style="normal" >40</text>
<line x1="43.9" y1="293.8" x2="46.9" y2="293.8" stroke="#111" stroke-width="1.5"/>
<text x="43.5" y="296.7" font-size="8" text-anchor="end" font-weight="bold" font-style="normal" >30</text>
<line x1="43.9" y1="313.6" x2="46.9" y2="313.6" stroke="#111" stroke-width="1.5"/>
<text x="43.5" y="316.5" font-size="8" text-anchor="end" font-weight="bold" font-style="normal" >20</text>
<line x1="43.9" y1="332.9" x2="46.9" y2="332.9" stroke="#111" stroke-width="1.5"/>
<text x="43.5" y="335.8" font-size="8" text-anchor="end" font-weight="bold" font-style="normal" >10</text>
<line x1="43.9" y1="352.4" x2="46.9" y2="352.4" stroke="#111" stroke-width="1.5"/>
<text x="43.5" y="355.3" font-size="8" text-anchor="end" font-weight="bold" font-style="normal" >0</text>
<line x1="55.7" y1="361.5" x2="179.8" y2="361.5" stroke="#111" stroke-width="1.7"/>
<line x1="61.4" y1="361.5" x2="61.4" y2="364.4" stroke="#111" stroke-width="1.6"/>
<text x="61.4" y="372" font-size="8.2" text-anchor="middle" font-weight="bold" font-style="normal" >0</text>
<line x1="73.8" y1="361.5" x2="73.8" y2="364.4" stroke="#111" stroke-width="1.6"/>
<text x="73.8" y="372" font-size="8.2" text-anchor="middle" font-weight="bold" font-style="normal" >24</text>
<line x1="86.2" y1="361.5" x2="86.2" y2="364.4" stroke="#111" stroke-width="1.6"/>
<text x="86.2" y="372" font-size="8.2" text-anchor="middle" font-weight="bold" font-style="normal" >48</text>
<line x1="105.4" y1="361.5" x2="105.4" y2="364.4" stroke="#111" stroke-width="1.6"/>
<text x="105.4" y="372" font-size="8.2" text-anchor="middle" font-weight="bold" font-style="normal" >0</text>
<line x1="117.5" y1="361.5" x2="117.5" y2="364.4" stroke="#111" stroke-width="1.6"/>
<text x="117.5" y="372" font-size="8.2" text-anchor="middle" font-weight="bold" font-style="normal" >24</text>
<line x1="129.3" y1="361.5" x2="129.3" y2="364.4" stroke="#111" stroke-width="1.6"/>
<text x="129.3" y="372" font-size="8.2" text-anchor="middle" font-weight="bold" font-style="normal" >48</text>
<line x1="149.2" y1="361.5" x2="149.2" y2="364.4" stroke="#111" stroke-width="1.6"/>
<text x="149.2" y="372" font-size="8.2" text-anchor="middle" font-weight="bold" font-style="normal" >0</text>
<line x1="161.1" y1="361.5" x2="161.1" y2="364.4" stroke="#111" stroke-width="1.6"/>
<text x="161.1" y="372" font-size="8.2" text-anchor="middle" font-weight="bold" font-style="normal" >24</text>
<line x1="172.9" y1="361.5" x2="172.9" y2="364.4" stroke="#111" stroke-width="1.6"/>
<text x="172.9" y="372" font-size="8.2" text-anchor="middle" font-weight="bold" font-style="normal" >48</text>
<rect x="56.25" y="331.25" width="5.5" height="5.5" fill="#5252e4"/>
<rect x="61.25" y="331.25" width="5.5" height="5.5" fill="#5252e4"/>
<rect x="58.75" y="334.25" width="5.5" height="5.5" fill="#5252e4"/>
<rect x="56.25" y="337.25" width="5.5" height="5.5" fill="#5252e4"/>
<rect x="61.25" y="337.25" width="5.5" height="5.5" fill="#5252e4"/>
<rect x="59.85" y="326.85" width="4.3" height="4.3" fill="#fff" stroke="#4a4ad8" stroke-width="1.3"/>
<rect x="53.45" y="334.35" width="4.3" height="4.3" fill="#fff" stroke="#4a4ad8" stroke-width="1.3"/>
<rect x="55.35" y="340.85" width="4.3" height="4.3" fill="#fff" stroke="#4a4ad8" stroke-width="1.3"/>
<rect x="62.85" y="341.85" width="4.3" height="4.3" fill="#fff" stroke="#4a4ad8" stroke-width="1.3"/>
<rect x="59.35" y="343.85" width="4.3" height="4.3" fill="#fff" stroke="#4a4ad8" stroke-width="1.3"/>
<rect x="71.45" y="292.35" width="4.7" height="4.7" fill="#5454e6"/>
<rect x="71.45" y="308.45" width="4.7" height="4.7" fill="#5454e6"/>
<rect x="71.45" y="317.05" width="4.7" height="4.7" fill="#5454e6"/>
<rect x="71.45" y="329.45" width="4.7" height="4.7" fill="#5454e6"/>
<rect x="83.9" y="295.7" width="4.6" height="4.6" fill="#4a4ad0" stroke="#1c1c5a" stroke-width="1.3"/>
<rect x="83.9" y="310.5" width="4.6" height="4.6" fill="#4a4ad0" stroke="#1c1c5a" stroke-width="1.3"/>
<rect x="80.2" y="317.9" width="4.6" height="4.6" fill="#4a4ad0" stroke="#1c1c5a" stroke-width="1.3"/>
<rect x="87.1" y="318.4" width="4.6" height="4.6" fill="#4a4ad0" stroke="#1c1c5a" stroke-width="1.3"/>
<rect x="83.9" y="322" width="4.6" height="4.6" fill="#4a4ad0" stroke="#1c1c5a" stroke-width="1.3"/>
<polygon points="102.3,333.1 108.7,333.1 105.5,338.9" fill="#16b416" stroke="none" stroke-width="0" stroke-linejoin="miter"/>
<polygon points="99.3,336.6 105.7,336.6 102.5,342.4" fill="#16b416" stroke="none" stroke-width="0" stroke-linejoin="miter"/>
<polygon points="105.3,336.6 111.7,336.6 108.5,342.4" fill="#16b416" stroke="none" stroke-width="0" stroke-linejoin="miter"/>
<polygon points="95.8,339.1 102.2,339.1 99,344.9" fill="#16b416" stroke="none" stroke-width="0" stroke-linejoin="miter"/>
<polygon points="101.8,339.6 108.2,339.6 105,345.4" fill="#16b416" stroke="none" stroke-width="0" stroke-linejoin="miter"/>
<polygon points="106.8,339.1 113.2,339.1 110,344.9" fill="#16b416" stroke="none" stroke-width="0" stroke-linejoin="miter"/>
<polygon points="98.8,342.6 105.2,342.6 102,348.4" fill="#16b416" stroke="none" stroke-width="0" stroke-linejoin="miter"/>
<polygon points="104.8,342.6 111.2,342.6 108,348.4" fill="#16b416" stroke="none" stroke-width="0" stroke-linejoin="miter"/>
<polygon points="101.8,345.6 108.2,345.6 105,351.4" fill="#16b416" stroke="none" stroke-width="0" stroke-linejoin="miter"/>
<polygon points="102.3,347.1 108.7,347.1 105.5,352.9" fill="#16b416" stroke="none" stroke-width="0" stroke-linejoin="miter"/>
<circle cx="105.4" cy="334.9" r="0.8" fill="#fff" opacity="0.85"/>
<circle cx="107.1" cy="338" r="0.8" fill="#fff" opacity="0.85"/>
<circle cx="104.6" cy="339.6" r="0.8" fill="#fff" opacity="0.85"/>
<circle cx="99.1" cy="341.4" r="0.8" fill="#fff" opacity="0.85"/>
<circle cx="102" cy="344.6" r="0.8" fill="#fff" opacity="0.85"/>
<circle cx="105.4" cy="346.5" r="0.8" fill="#fff" opacity="0.85"/>
<circle cx="108.4" cy="345.3" r="0.8" fill="#fff" opacity="0.85"/>
<circle cx="105.4" cy="349.5" r="0.8" fill="#fff" opacity="0.85"/>
<polygon points="107.9,294.95 113.3,294.95 110.6,299.85" fill="#22aa22" stroke="none" stroke-width="0" stroke-linejoin="miter"/>
<polygon points="118.3,291.15 123.7,291.15 121,296.05" fill="#22aa22" stroke="none" stroke-width="0" stroke-linejoin="miter"/>
<polygon points="114.8,298.05 120.2,298.05 117.5,302.95" fill="#22aa22" stroke="none" stroke-width="0" stroke-linejoin="miter"/>
<polygon points="114.8,317.95 120.2,317.95 117.5,322.85" fill="#22aa22" stroke="none" stroke-width="0" stroke-linejoin="miter"/>
<polygon points="127,303.6 131.6,303.6 129.3,307.8" fill="#5f825f" stroke="#061006" stroke-width="1.4" stroke-linejoin="miter"/>
<polygon points="124.7,323.8 129.3,323.8 127,328" fill="#5f825f" stroke="#061006" stroke-width="1.4" stroke-linejoin="miter"/>
<polygon points="129,325.2 133.6,325.2 131.3,329.4" fill="#5f825f" stroke="#061006" stroke-width="1.4" stroke-linejoin="miter"/>
<polygon points="130.4,327.8 135,327.8 132.7,332" fill="#5f825f" stroke="#061006" stroke-width="1.4" stroke-linejoin="miter"/>
<polygon points="127,333 131.6,333 129.3,337.2" fill="#5f825f" stroke="#061006" stroke-width="1.4" stroke-linejoin="miter"/>
<circle cx="149" cy="340" r="2.7" fill="#ea1018"/>
<circle cx="146.5" cy="342.5" r="2.7" fill="#ea1018"/>
<circle cx="151.5" cy="342.5" r="2.7" fill="#ea1018"/>
<circle cx="149" cy="344.5" r="2.7" fill="#ea1018"/>
<circle cx="148.9" cy="328.9" r="1.9" fill="#fff" stroke="#d41428" stroke-width="1.3"/>
<circle cx="142.5" cy="337.7" r="1.9" fill="#fff" stroke="#d41428" stroke-width="1.3"/>
<circle cx="145.5" cy="343.8" r="1.9" fill="#fff" stroke="#d41428" stroke-width="1.3"/>
<circle cx="152.5" cy="344.6" r="1.9" fill="#fff" stroke="#d41428" stroke-width="1.3"/>
<circle cx="149" cy="346.6" r="1.9" fill="#fff" stroke="#d41428" stroke-width="1.3"/>
<circle cx="154.2" cy="302.2" r="2.5" fill="#e61020"/>
<circle cx="160.8" cy="308.3" r="2.5" fill="#e61020"/>
<circle cx="160.4" cy="335.1" r="2.5" fill="#e61020"/>
<circle cx="164.2" cy="333" r="2.5" fill="#e61020"/>
<circle cx="172.9" cy="335.1" r="2.0" fill="#a81424" stroke="#300004" stroke-width="1.3"/>
<circle cx="169.4" cy="344.3" r="2.0" fill="#a81424" stroke="#300004" stroke-width="1.3"/>
<circle cx="175.5" cy="345.1" r="2.0" fill="#a81424" stroke="#300004" stroke-width="1.3"/>
<circle cx="172.9" cy="349" r="2.0" fill="#a81424" stroke="#300004" stroke-width="1.3"/>
<line x1="69.7" y1="314" x2="78.2" y2="314" stroke="#111" stroke-width="1.5"/>
<line x1="82" y1="315" x2="90.3" y2="315" stroke="#111" stroke-width="1.5"/>
<line x1="113.2" y1="303.1" x2="121.8" y2="303.1" stroke="#111" stroke-width="1.5"/>
<line x1="125.3" y1="324.7" x2="133.1" y2="324.7" stroke="#111" stroke-width="1.5"/>
<line x1="156.4" y1="319.5" x2="165.6" y2="319.5" stroke="#111" stroke-width="1.5"/>
<line x1="53.9" y1="262.5" x2="79.1" y2="262.5" stroke="#111" stroke-width="1.8"/>
<polygon points="64.5,254.7 65.18,256.37 66.97,256.5 65.59,257.66 66.03,259.4 64.5,258.45 62.97,259.4 63.41,257.66 62.03,256.5 63.82,256.37" fill="#111"/>
<polygon points="69.5,254.7 70.18,256.37 71.97,256.5 70.59,257.66 71.03,259.4 69.5,258.45 67.97,259.4 68.41,257.66 67.03,256.5 68.82,256.37" fill="#111"/>
<polygon points="74.5,254.7 75.18,256.37 76.97,256.5 75.59,257.66 76.03,259.4 74.5,258.45 72.97,259.4 73.41,257.66 72.03,256.5 73.82,256.37" fill="#111"/>
<line x1="53.4" y1="270.8" x2="68.2" y2="270.8" stroke="#111" stroke-width="1.8"/>
<polygon points="58.4,263 59.08,264.67 60.87,264.8 59.49,265.96 59.93,267.7 58.4,266.75 56.87,267.7 57.31,265.96 55.93,264.8 57.72,264.67" fill="#111"/>
<polygon points="63.4,263 64.08,264.67 65.87,264.8 64.49,265.96 64.93,267.7 63.4,266.75 61.87,267.7 62.31,265.96 60.93,264.8 62.72,264.67" fill="#111"/>
<line x1="101.9" y1="262.5" x2="124.8" y2="262.5" stroke="#111" stroke-width="1.8"/>
<polygon points="111.2,254.7 111.88,256.37 113.67,256.5 112.29,257.66 112.73,259.4 111.2,258.45 109.67,259.4 110.11,257.66 108.73,256.5 110.52,256.37" fill="#111"/>
<polygon points="116.2,254.7 116.88,256.37 118.67,256.5 117.29,257.66 117.73,259.4 116.2,258.45 114.67,259.4 115.11,257.66 113.73,256.5 115.52,256.37" fill="#111"/>
<polygon points="121.2,254.7 121.88,256.37 123.67,256.5 122.29,257.66 122.73,259.4 121.2,258.45 119.67,259.4 120.11,257.66 118.73,256.5 120.52,256.37" fill="#111"/>
<line x1="101.4" y1="270.8" x2="113.6" y2="270.8" stroke="#111" stroke-width="1.8"/>
<polygon points="103.4,263 104.08,264.67 105.87,264.8 104.49,265.96 104.93,267.7 103.4,266.75 101.87,267.7 102.31,265.96 100.93,264.8 102.72,264.67" fill="#111"/>
<polygon points="108.4,263 109.08,264.67 110.87,264.8 109.49,265.96 109.93,267.7 108.4,266.75 106.87,267.7 107.31,265.96 105.93,264.8 107.72,264.67" fill="#111"/>
<polygon points="113.4,263 114.08,264.67 115.87,264.8 114.49,265.96 114.93,267.7 113.4,266.75 111.87,267.7 112.31,265.96 110.93,264.8 112.72,264.67" fill="#111"/>
<line x1="142.9" y1="262.5" x2="169.4" y2="262.5" stroke="#111" stroke-width="1.8"/>
<text transform="translate(160.3,260) scale(1.13,1)" font-size="7.9" text-anchor="middle" font-weight="bold">ns</text>
<line x1="142.2" y1="270.8" x2="155.1" y2="270.8" stroke="#111" stroke-width="1.8"/>
<polygon points="146.1,263 146.78,264.67 148.57,264.8 147.19,265.96 147.63,267.7 146.1,266.75 144.57,267.7 145.01,265.96 143.63,264.8 145.42,264.67" fill="#111"/>
<polygon points="151.1,263 151.78,264.67 153.57,264.8 152.19,265.96 152.63,267.7 151.1,266.75 149.57,267.7 150.01,265.96 148.63,264.8 150.42,264.67" fill="#111"/>
<line x1="113.6" y1="253.9" x2="155.9" y2="253.9" stroke="#111" stroke-width="1.8"/>
<text transform="translate(133.6,251.4) scale(1.13,1)" font-size="7.9" text-anchor="middle" font-weight="bold">ns</text>
<line x1="127.4" y1="244.8" x2="170.7" y2="244.8" stroke="#111" stroke-width="1.8"/>
<polygon points="143,237 143.68,238.67 145.47,238.8 144.09,239.96 144.53,241.7 143,240.75 141.47,241.7 141.91,239.96 140.53,238.8 142.32,238.67" fill="#111"/>
<polygon points="148,237 148.68,238.67 150.47,238.8 149.09,239.96 149.53,241.7 148,240.75 146.47,241.7 146.91,239.96 145.53,238.8 147.32,238.67" fill="#111"/>
<line x1="211.5" y1="273.3" x2="211.5" y2="353.8" stroke="#111" stroke-width="1.6"/>
<line x1="208.5" y1="274" x2="211.5" y2="274" stroke="#111" stroke-width="1.5"/>
<text x="208.1" y="276.9" font-size="8" text-anchor="end" font-weight="bold" font-style="normal" >0.8</text>
<line x1="208.5" y1="293.8" x2="211.5" y2="293.8" stroke="#111" stroke-width="1.5"/>
<text x="208.1" y="296.7" font-size="8" text-anchor="end" font-weight="bold" font-style="normal" >0.6</text>
<line x1="208.5" y1="313.6" x2="211.5" y2="313.6" stroke="#111" stroke-width="1.5"/>
<text x="208.1" y="316.5" font-size="8" text-anchor="end" font-weight="bold" font-style="normal" >0.4</text>
<line x1="208.5" y1="333.3" x2="211.5" y2="333.3" stroke="#111" stroke-width="1.5"/>
<text x="208.1" y="336.2" font-size="8" text-anchor="end" font-weight="bold" font-style="normal" >0.2</text>
<line x1="208.5" y1="353.1" x2="211.5" y2="353.1" stroke="#111" stroke-width="1.5"/>
<text x="208.1" y="356" font-size="8" text-anchor="end" font-weight="bold" font-style="normal" >0.0</text>
<line x1="221.3" y1="362" x2="344.5" y2="362" stroke="#111" stroke-width="1.7"/>
<line x1="227.1" y1="362" x2="227.1" y2="364.9" stroke="#111" stroke-width="1.6"/>
<text x="227.1" y="372.5" font-size="8.2" text-anchor="middle" font-weight="bold" font-style="normal" >0</text>
<line x1="239.1" y1="362" x2="239.1" y2="364.9" stroke="#111" stroke-width="1.6"/>
<text x="239.1" y="372.5" font-size="8.2" text-anchor="middle" font-weight="bold" font-style="normal" >24</text>
<line x1="251" y1="362" x2="251" y2="364.9" stroke="#111" stroke-width="1.6"/>
<text x="251" y="372.5" font-size="8.2" text-anchor="middle" font-weight="bold" font-style="normal" >48</text>
<line x1="270.7" y1="362" x2="270.7" y2="364.9" stroke="#111" stroke-width="1.6"/>
<text x="270.7" y="372.5" font-size="8.2" text-anchor="middle" font-weight="bold" font-style="normal" >0</text>
<line x1="282.5" y1="362" x2="282.5" y2="364.9" stroke="#111" stroke-width="1.6"/>
<text x="282.5" y="372.5" font-size="8.2" text-anchor="middle" font-weight="bold" font-style="normal" >24</text>
<line x1="294.6" y1="362" x2="294.6" y2="364.9" stroke="#111" stroke-width="1.6"/>
<text x="294.6" y="372.5" font-size="8.2" text-anchor="middle" font-weight="bold" font-style="normal" >48</text>
<line x1="314.2" y1="362" x2="314.2" y2="364.9" stroke="#111" stroke-width="1.6"/>
<text x="314.2" y="372.5" font-size="8.2" text-anchor="middle" font-weight="bold" font-style="normal" >0</text>
<line x1="326.1" y1="362" x2="326.1" y2="364.9" stroke="#111" stroke-width="1.6"/>
<text x="326.1" y="372.5" font-size="8.2" text-anchor="middle" font-weight="bold" font-style="normal" >24</text>
<line x1="337.9" y1="362" x2="337.9" y2="364.9" stroke="#111" stroke-width="1.6"/>
<text x="337.9" y="372.5" font-size="8.2" text-anchor="middle" font-weight="bold" font-style="normal" >48</text>
<rect x="226.25" y="334.25" width="5.5" height="5.5" fill="#5252e4"/>
<rect x="228.25" y="337.75" width="5.5" height="5.5" fill="#5252e4"/>
<rect x="223.25" y="338.25" width="5.5" height="5.5" fill="#5252e4"/>
<rect x="226.75" y="341.25" width="5.5" height="5.5" fill="#5252e4"/>
<rect x="224.75" y="345.25" width="5.5" height="5.5" fill="#5252e4"/>
<rect x="228.75" y="345.25" width="5.5" height="5.5" fill="#5252e4"/>
<rect x="228.55" y="327.25" width="4.3" height="4.3" fill="#fff" stroke="#4a4ad8" stroke-width="1.3"/>
<rect x="224.65" y="329.35" width="4.3" height="4.3" fill="#fff" stroke="#4a4ad8" stroke-width="1.3"/>
<rect x="218.45" y="339.35" width="4.3" height="4.3" fill="#fff" stroke="#4a4ad8" stroke-width="1.3"/>
<rect x="221.35" y="345.35" width="4.3" height="4.3" fill="#fff" stroke="#4a4ad8" stroke-width="1.3"/>
<rect x="230.15" y="319.95" width="4.7" height="4.7" fill="#5454e6"/>
<rect x="236.75" y="321.95" width="4.7" height="4.7" fill="#5454e6"/>
<rect x="240.35" y="316.15" width="4.7" height="4.7" fill="#5454e6"/>
<rect x="236.75" y="330.95" width="4.7" height="4.7" fill="#5454e6"/>
<rect x="248.7" y="289.9" width="4.6" height="4.6" fill="#4a4ad0" stroke="#1c1c5a" stroke-width="1.3"/>
<rect x="248.7" y="310.4" width="4.6" height="4.6" fill="#4a4ad0" stroke="#1c1c5a" stroke-width="1.3"/>
<rect x="248.7" y="320.3" width="4.6" height="4.6" fill="#4a4ad0" stroke="#1c1c5a" stroke-width="1.3"/>
<rect x="248.7" y="328.5" width="4.6" height="4.6" fill="#4a4ad0" stroke="#1c1c5a" stroke-width="1.3"/>
<rect x="252.3" y="326.6" width="4.6" height="4.6" fill="#4a4ad0" stroke="#1c1c5a" stroke-width="1.3"/>
<polygon points="267.6,339.6 274,339.6 270.8,345.4" fill="#16b416" stroke="none" stroke-width="0" stroke-linejoin="miter"/>
<polygon points="264.2,343.1 270.6,343.1 267.4,348.9" fill="#16b416" stroke="none" stroke-width="0" stroke-linejoin="miter"/>
<polygon points="271,343.1 277.4,343.1 274.2,348.9" fill="#16b416" stroke="none" stroke-width="0" stroke-linejoin="miter"/>
<polygon points="267.6,345.6 274,345.6 270.8,351.4" fill="#16b416" stroke="none" stroke-width="0" stroke-linejoin="miter"/>
<polygon points="268.3,328.25 273.3,328.25 270.8,332.75" fill="#fff" stroke="#1aa21a" stroke-width="1.4" stroke-linejoin="miter"/>
<polygon points="273.2,314.15 278.6,314.15 275.9,319.05" fill="#22aa22" stroke="none" stroke-width="0" stroke-linejoin="miter"/>
<polygon points="279.8,310.15 285.2,310.15 282.5,315.05" fill="#22aa22" stroke="none" stroke-width="0" stroke-linejoin="miter"/>
<polygon points="279.8,319.65 285.2,319.65 282.5,324.55" fill="#22aa22" stroke="none" stroke-width="0" stroke-linejoin="miter"/>
<polygon points="279.8,328.35 285.2,328.35 282.5,333.25" fill="#22aa22" stroke="none" stroke-width="0" stroke-linejoin="miter"/>
<polygon points="285.7,309.3 290.3,309.3 288,313.5" fill="#5f825f" stroke="#061006" stroke-width="1.4" stroke-linejoin="miter"/>
<polygon points="292.3,305.3 296.9,305.3 294.6,309.5" fill="#5f825f" stroke="#061006" stroke-width="1.4" stroke-linejoin="miter"/>
<polygon points="292.3,314.5 296.9,314.5 294.6,318.7" fill="#5f825f" stroke="#061006" stroke-width="1.4" stroke-linejoin="miter"/>
<polygon points="292.3,322.6 296.9,322.6 294.6,326.8" fill="#5f825f" stroke="#061006" stroke-width="1.4" stroke-linejoin="miter"/>
<circle cx="314.2" cy="347.4" r="2.7" fill="#ea1018"/>
<circle cx="311.5" cy="349.4" r="2.7" fill="#ea1018"/>
<circle cx="316.9" cy="349.4" r="2.7" fill="#ea1018"/>
<circle cx="314.2" cy="351.4" r="2.7" fill="#ea1018"/>
<circle cx="311.3" cy="349.8" r="0.8" fill="#fff" opacity="0.85"/>
<circle cx="317.1" cy="349.8" r="0.8" fill="#fff" opacity="0.85"/>
<circle cx="314.2" cy="352" r="0.8" fill="#fff" opacity="0.85"/>
<circle cx="314.2" cy="343.5" r="1.9" fill="#fff" stroke="#d41428" stroke-width="1.3"/>
<circle cx="326.1" cy="323.8" r="2.5" fill="#e61020"/>
<circle cx="326.1" cy="335.1" r="2.5" fill="#e61020"/>
<circle cx="329.2" cy="341.2" r="2.5" fill="#e61020"/>
<circle cx="326.1" cy="345.5" r="2.5" fill="#e61020"/>
<circle cx="331.5" cy="326.4" r="2.0" fill="#a81424" stroke="#300004" stroke-width="1.3"/>
<circle cx="337.9" cy="332.8" r="2.0" fill="#a81424" stroke="#300004" stroke-width="1.3"/>
<circle cx="341.3" cy="346" r="2.0" fill="#a81424" stroke="#300004" stroke-width="1.3"/>
<circle cx="337.9" cy="350.3" r="2.0" fill="#a81424" stroke="#300004" stroke-width="1.3"/>
<line x1="237" y1="323.9" x2="243.6" y2="323.9" stroke="#111" stroke-width="1.5"/>
<line x1="246.9" y1="317.3" x2="255.6" y2="317.3" stroke="#111" stroke-width="1.5"/>
<line x1="278.2" y1="320.7" x2="286.8" y2="320.7" stroke="#111" stroke-width="1.5"/>
<line x1="290.8" y1="315.2" x2="298.9" y2="315.2" stroke="#111" stroke-width="1.5"/>
<line x1="322" y1="336.3" x2="330.6" y2="336.3" stroke="#111" stroke-width="1.5"/>
<line x1="334.1" y1="338.9" x2="342.7" y2="338.9" stroke="#111" stroke-width="1.5"/>
<line x1="224.9" y1="263" x2="249.5" y2="263" stroke="#111" stroke-width="1.8"/>
<polygon points="235.2,255.2 235.88,256.87 237.67,257 236.29,258.16 236.73,259.9 235.2,258.95 233.67,259.9 234.11,258.16 232.73,257 234.52,256.87" fill="#111"/>
<polygon points="240.2,255.2 240.88,256.87 242.67,257 241.29,258.16 241.73,259.9 240.2,258.95 238.67,259.9 239.11,258.16 237.73,257 239.52,256.87" fill="#111"/>
<polygon points="245.2,255.2 245.88,256.87 247.67,257 246.29,258.16 246.73,259.9 245.2,258.95 243.67,259.9 244.11,258.16 242.73,257 244.52,256.87" fill="#111"/>
<line x1="224.1" y1="270.8" x2="238.9" y2="270.8" stroke="#111" stroke-width="1.8"/>
<polygon points="229.4,263 230.08,264.67 231.87,264.8 230.49,265.96 230.93,267.7 229.4,266.75 227.87,267.7 228.31,265.96 226.93,264.8 228.72,264.67" fill="#111"/>
<polygon points="234.4,263 235.08,264.67 236.87,264.8 235.49,265.96 235.93,267.7 234.4,266.75 232.87,267.7 233.31,265.96 231.93,264.8 233.72,264.67" fill="#111"/>
<line x1="272.6" y1="263" x2="295" y2="263" stroke="#111" stroke-width="1.8"/>
<polygon points="281.4,255.2 282.08,256.87 283.87,257 282.49,258.16 282.93,259.9 281.4,258.95 279.87,259.9 280.31,258.16 278.93,257 280.72,256.87" fill="#111"/>
<polygon points="286.4,255.2 287.08,256.87 288.87,257 287.49,258.16 287.93,259.9 286.4,258.95 284.87,259.9 285.31,258.16 283.93,257 285.72,256.87" fill="#111"/>
<polygon points="291.4,255.2 292.08,256.87 293.87,257 292.49,258.16 292.93,259.9 291.4,258.95 289.87,259.9 290.31,258.16 288.93,257 290.72,256.87" fill="#111"/>
<line x1="272.1" y1="270.8" x2="284.6" y2="270.8" stroke="#111" stroke-width="1.8"/>
<polygon points="274.4,263 275.08,264.67 276.87,264.8 275.49,265.96 275.93,267.7 274.4,266.75 272.87,267.7 273.31,265.96 271.93,264.8 273.72,264.67" fill="#111"/>
<polygon points="279.4,263 280.08,264.67 281.87,264.8 280.49,265.96 280.93,267.7 279.4,266.75 277.87,267.7 278.31,265.96 276.93,264.8 278.72,264.67" fill="#111"/>
<polygon points="284.4,263 285.08,264.67 286.87,264.8 285.49,265.96 285.93,267.7 284.4,266.75 282.87,267.7 283.31,265.96 281.93,264.8 283.72,264.67" fill="#111"/>
<line x1="313.1" y1="263" x2="339.6" y2="263" stroke="#111" stroke-width="1.8"/>
<polygon points="327.9,255.2 328.58,256.87 330.37,257 328.99,258.16 329.43,259.9 327.9,258.95 326.37,259.9 326.81,258.16 325.43,257 327.22,256.87" fill="#111"/>
<line x1="312.4" y1="270.8" x2="326.1" y2="270.8" stroke="#111" stroke-width="1.8"/>
<polygon points="317.6,263 318.28,264.67 320.07,264.8 318.69,265.96 319.13,267.7 317.6,266.75 316.07,267.7 316.51,265.96 315.13,264.8 316.92,264.67" fill="#111"/>
<polygon points="322.6,263 323.28,264.67 325.07,264.8 323.69,265.96 324.13,267.7 322.6,266.75 321.07,267.7 321.51,265.96 320.13,264.8 321.92,264.67" fill="#111"/>
<line x1="283.8" y1="254.1" x2="326.6" y2="254.1" stroke="#111" stroke-width="1.8"/>
<polygon points="307.2,246.3 307.88,247.97 309.67,248.1 308.29,249.26 308.73,251 307.2,250.05 305.67,251 306.11,249.26 304.73,248.1 306.52,247.97" fill="#111"/>
<line x1="297.6" y1="245.1" x2="340.9" y2="245.1" stroke="#111" stroke-width="1.8"/>
<polygon points="317.5,237.3 318.18,238.97 319.97,239.1 318.59,240.26 319.03,242 317.5,241.05 315.97,242 316.41,240.26 315.03,239.1 316.82,238.97" fill="#111"/>
<line x1="372" y1="273.8" x2="372" y2="354.3" stroke="#111" stroke-width="1.6"/>
<line x1="369" y1="274.5" x2="372" y2="274.5" stroke="#111" stroke-width="1.5"/>
<text x="368.6" y="277.4" font-size="8" text-anchor="end" font-weight="bold" font-style="normal" >15</text>
<line x1="369" y1="300.4" x2="372" y2="300.4" stroke="#111" stroke-width="1.5"/>
<text x="368.6" y="303.3" font-size="8" text-anchor="end" font-weight="bold" font-style="normal" >10</text>
<line x1="369" y1="327.2" x2="372" y2="327.2" stroke="#111" stroke-width="1.5"/>
<text x="368.6" y="330.1" font-size="8" text-anchor="end" font-weight="bold" font-style="normal" >5</text>
<line x1="369" y1="353.6" x2="372" y2="353.6" stroke="#111" stroke-width="1.5"/>
<text x="368.6" y="356.5" font-size="8" text-anchor="end" font-weight="bold" font-style="normal" >0</text>
<line x1="381.3" y1="362" x2="504.5" y2="362" stroke="#111" stroke-width="1.7"/>
<line x1="387.4" y1="362" x2="387.4" y2="364.9" stroke="#111" stroke-width="1.6"/>
<text x="387.4" y="372.5" font-size="8.2" text-anchor="middle" font-weight="bold" font-style="normal" >0</text>
<line x1="399.1" y1="362" x2="399.1" y2="364.9" stroke="#111" stroke-width="1.6"/>
<text x="399.1" y="372.5" font-size="8.2" text-anchor="middle" font-weight="bold" font-style="normal" >24</text>
<line x1="411" y1="362" x2="411" y2="364.9" stroke="#111" stroke-width="1.6"/>
<text x="411" y="372.5" font-size="8.2" text-anchor="middle" font-weight="bold" font-style="normal" >48</text>
<line x1="431.1" y1="362" x2="431.1" y2="364.9" stroke="#111" stroke-width="1.6"/>
<text x="431.1" y="372.5" font-size="8.2" text-anchor="middle" font-weight="bold" font-style="normal" >0</text>
<line x1="442.4" y1="362" x2="442.4" y2="364.9" stroke="#111" stroke-width="1.6"/>
<text x="442.4" y="372.5" font-size="8.2" text-anchor="middle" font-weight="bold" font-style="normal" >24</text>
<line x1="454.3" y1="362" x2="454.3" y2="364.9" stroke="#111" stroke-width="1.6"/>
<text x="454.3" y="372.5" font-size="8.2" text-anchor="middle" font-weight="bold" font-style="normal" >48</text>
<line x1="474.4" y1="362" x2="474.4" y2="364.9" stroke="#111" stroke-width="1.6"/>
<text x="474.4" y="372.5" font-size="8.2" text-anchor="middle" font-weight="bold" font-style="normal" >0</text>
<line x1="486.2" y1="362" x2="486.2" y2="364.9" stroke="#111" stroke-width="1.6"/>
<text x="486.2" y="372.5" font-size="8.2" text-anchor="middle" font-weight="bold" font-style="normal" >24</text>
<line x1="498.1" y1="362" x2="498.1" y2="364.9" stroke="#111" stroke-width="1.6"/>
<text x="498.1" y="372.5" font-size="8.2" text-anchor="middle" font-weight="bold" font-style="normal" >48</text>
<rect x="386.25" y="330.75" width="5.5" height="5.5" fill="#5252e4"/>
<rect x="383.25" y="333.75" width="5.5" height="5.5" fill="#5252e4"/>
<rect x="387.25" y="334.75" width="5.5" height="5.5" fill="#5252e4"/>
<rect x="385.05" y="318.85" width="4.3" height="4.3" fill="#fff" stroke="#4a4ad8" stroke-width="1.3"/>
<rect x="381.35" y="326.85" width="4.3" height="4.3" fill="#fff" stroke="#4a4ad8" stroke-width="1.3"/>
<rect x="386.85" y="327.35" width="4.3" height="4.3" fill="#fff" stroke="#4a4ad8" stroke-width="1.3"/>
<rect x="378.35" y="334.85" width="4.3" height="4.3" fill="#fff" stroke="#4a4ad8" stroke-width="1.3"/>
<rect x="381.85" y="339.35" width="4.3" height="4.3" fill="#fff" stroke="#4a4ad8" stroke-width="1.3"/>
<rect x="388.85" y="339.85" width="4.3" height="4.3" fill="#fff" stroke="#4a4ad8" stroke-width="1.3"/>
<rect x="385.35" y="342.85" width="4.3" height="4.3" fill="#fff" stroke="#4a4ad8" stroke-width="1.3"/>
<rect x="390.15" y="304.15" width="4.7" height="4.7" fill="#5454e6"/>
<rect x="396.75" y="305.15" width="4.7" height="4.7" fill="#5454e6"/>
<rect x="400.35" y="325.55" width="4.7" height="4.7" fill="#5454e6"/>
<rect x="396.75" y="330.45" width="4.7" height="4.7" fill="#5454e6"/>
<rect x="412.3" y="275.5" width="4.6" height="4.6" fill="#4a4ad0" stroke="#1c1c5a" stroke-width="1.3"/>
<rect x="408.7" y="280.5" width="4.6" height="4.6" fill="#4a4ad0" stroke="#1c1c5a" stroke-width="1.3"/>
<rect x="408.7" y="303.5" width="4.6" height="4.6" fill="#4a4ad0" stroke="#1c1c5a" stroke-width="1.3"/>
<rect x="412.3" y="311.3" width="4.6" height="4.6" fill="#4a4ad0" stroke="#1c1c5a" stroke-width="1.3"/>
<rect x="408.7" y="314.1" width="4.6" height="4.6" fill="#4a4ad0" stroke="#1c1c5a" stroke-width="1.3"/>
<polygon points="428.3,328.1 434.7,328.1 431.5,333.9" fill="#16b416" stroke="none" stroke-width="0" stroke-linejoin="miter"/>
<polygon points="431.2,327.7 437.6,327.7 434.4,333.5" fill="#16b416" stroke="none" stroke-width="0" stroke-linejoin="miter"/>
<polygon points="421.8,312.65 426.8,312.65 424.3,317.15" fill="#fff" stroke="#1aa21a" stroke-width="1.4" stroke-linejoin="miter"/>
<polygon points="428.4,318.05 433.4,318.05 430.9,322.55" fill="#fff" stroke="#1aa21a" stroke-width="1.4" stroke-linejoin="miter"/>
<polygon points="430,321.45 435,321.45 432.5,325.95" fill="#fff" stroke="#1aa21a" stroke-width="1.4" stroke-linejoin="miter"/>
<polygon points="424.9,325.85 429.9,325.85 427.4,330.35" fill="#fff" stroke="#1aa21a" stroke-width="1.4" stroke-linejoin="miter"/>
<polygon points="421.8,333.75 426.8,333.75 424.3,338.25" fill="#fff" stroke="#1aa21a" stroke-width="1.4" stroke-linejoin="miter"/>
<polygon points="428.4,334.95 433.4,334.95 430.9,339.45" fill="#fff" stroke="#1aa21a" stroke-width="1.4" stroke-linejoin="miter"/>
<polygon points="428.4,343.45 433.4,343.45 430.9,347.95" fill="#fff" stroke="#1aa21a" stroke-width="1.4" stroke-linejoin="miter"/>
<polygon points="443.4,289.95 448.8,289.95 446.1,294.85" fill="#22aa22" stroke="none" stroke-width="0" stroke-linejoin="miter"/>
<polygon points="439.7,294.55 445.1,294.55 442.4,299.45" fill="#22aa22" stroke="none" stroke-width="0" stroke-linejoin="miter"/>
<polygon points="439.7,305.45 445.1,305.45 442.4,310.35" fill="#22aa22" stroke="none" stroke-width="0" stroke-linejoin="miter"/>
<polygon points="439.7,322.85 445.1,322.85 442.4,327.75" fill="#22aa22" stroke="none" stroke-width="0" stroke-linejoin="miter"/>
<polygon points="452,285.7 456.6,285.7 454.3,289.9" fill="#5f825f" stroke="#061006" stroke-width="1.4" stroke-linejoin="miter"/>
<polygon points="445.6,311.3 450.2,311.3 447.9,315.5" fill="#5f825f" stroke="#061006" stroke-width="1.4" stroke-linejoin="miter"/>
<polygon points="452,312.2 456.6,312.2 454.3,316.4" fill="#5f825f" stroke="#061006" stroke-width="1.4" stroke-linejoin="miter"/>
<polygon points="452,320.4 456.6,320.4 454.3,324.6" fill="#5f825f" stroke="#061006" stroke-width="1.4" stroke-linejoin="miter"/>
<circle cx="477.5" cy="336.9" r="2.7" fill="#ea1018"/>
<circle cx="479.8" cy="337.1" r="2.7" fill="#ea1018"/>
<circle cx="474.6" cy="292.5" r="1.9" fill="#fff" stroke="#d41428" stroke-width="1.3"/>
<circle cx="470.7" cy="318.2" r="1.9" fill="#fff" stroke="#d41428" stroke-width="1.3"/>
<circle cx="477.7" cy="320.3" r="1.9" fill="#fff" stroke="#d41428" stroke-width="1.3"/>
<circle cx="474.6" cy="322.5" r="1.9" fill="#fff" stroke="#d41428" stroke-width="1.3"/>
<circle cx="470.7" cy="325" r="1.9" fill="#fff" stroke="#d41428" stroke-width="1.3"/>
<circle cx="477.7" cy="325.1" r="1.9" fill="#fff" stroke="#d41428" stroke-width="1.3"/>
<circle cx="467.7" cy="329.9" r="1.9" fill="#fff" stroke="#d41428" stroke-width="1.3"/>
<circle cx="474.6" cy="329.9" r="1.9" fill="#fff" stroke="#d41428" stroke-width="1.3"/>
<circle cx="474.2" cy="338.6" r="1.9" fill="#fff" stroke="#d41428" stroke-width="1.3"/>
<circle cx="486.2" cy="337.2" r="2.5" fill="#e61020"/>
<circle cx="489.5" cy="343.6" r="2.5" fill="#e61020"/>
<circle cx="486.2" cy="348.1" r="2.5" fill="#e61020"/>
<circle cx="495" cy="345" r="2.0" fill="#a81424" stroke="#300004" stroke-width="1.3"/>
<circle cx="498.1" cy="343.6" r="2.0" fill="#a81424" stroke="#300004" stroke-width="1.3"/>
<circle cx="501.2" cy="348.1" r="2.0" fill="#a81424" stroke="#300004" stroke-width="1.3"/>
<circle cx="498.1" cy="351.2" r="2.0" fill="#a81424" stroke="#300004" stroke-width="1.3"/>
<line x1="395.3" y1="318.5" x2="403.6" y2="318.5" stroke="#111" stroke-width="1.5"/>
<line x1="407.3" y1="299.6" x2="415.6" y2="299.6" stroke="#111" stroke-width="1.5"/>
<line x1="438.7" y1="305.6" x2="447" y2="305.6" stroke="#111" stroke-width="1.5"/>
<line x1="450.6" y1="309.8" x2="458.8" y2="309.8" stroke="#111" stroke-width="1.5"/>
<line x1="481.7" y1="341.4" x2="490.3" y2="341.4" stroke="#111" stroke-width="1.5"/>
<line x1="382.8" y1="263.7" x2="407.5" y2="263.7" stroke="#111" stroke-width="1.8"/>
<polygon points="393.4,255.9 394.08,257.57 395.87,257.7 394.49,258.86 394.93,260.6 393.4,259.65 391.87,260.6 392.31,258.86 390.93,257.7 392.72,257.57" fill="#111"/>
<polygon points="398.4,255.9 399.08,257.57 400.87,257.7 399.49,258.86 399.93,260.6 398.4,259.65 396.87,260.6 397.31,258.86 395.93,257.7 397.72,257.57" fill="#111"/>
<polygon points="403.4,255.9 404.08,257.57 405.87,257.7 404.49,258.86 404.93,260.6 403.4,259.65 401.87,260.6 402.31,258.86 400.93,257.7 402.72,257.57" fill="#111"/>
<line x1="382.3" y1="272.1" x2="396.3" y2="272.1" stroke="#111" stroke-width="1.8"/>
<polygon points="387.3,264.3 387.98,265.97 389.77,266.1 388.39,267.26 388.83,269 387.3,268.05 385.77,269 386.21,267.26 384.83,266.1 386.62,265.97" fill="#111"/>
<polygon points="392.3,264.3 392.98,265.97 394.77,266.1 393.39,267.26 393.83,269 392.3,268.05 390.77,269 391.21,267.26 389.83,266.1 391.62,265.97" fill="#111"/>
<line x1="430.8" y1="263.7" x2="452.9" y2="263.7" stroke="#111" stroke-width="1.8"/>
<polygon points="438.8,255.9 439.48,257.57 441.27,257.7 439.89,258.86 440.33,260.6 438.8,259.65 437.27,260.6 437.71,258.86 436.33,257.7 438.12,257.57" fill="#111"/>
<polygon points="443.8,255.9 444.48,257.57 446.27,257.7 444.89,258.86 445.33,260.6 443.8,259.65 442.27,260.6 442.71,258.86 441.33,257.7 443.12,257.57" fill="#111"/>
<polygon points="448.8,255.9 449.48,257.57 451.27,257.7 449.89,258.86 450.33,260.6 448.8,259.65 447.27,260.6 447.71,258.86 446.33,257.7 448.12,257.57" fill="#111"/>
<line x1="430.3" y1="272.1" x2="442" y2="272.1" stroke="#111" stroke-width="1.8"/>
<polygon points="431.8,264.3 432.48,265.97 434.27,266.1 432.89,267.26 433.33,269 431.8,268.05 430.27,269 430.71,267.26 429.33,266.1 431.12,265.97" fill="#111"/>
<polygon points="436.8,264.3 437.48,265.97 439.27,266.1 437.89,267.26 438.33,269 436.8,268.05 435.27,269 435.71,267.26 434.33,266.1 436.12,265.97" fill="#111"/>
<polygon points="441.8,264.3 442.48,265.97 444.27,266.1 442.89,267.26 443.33,269 441.8,268.05 440.27,269 440.71,267.26 439.33,266.1 441.12,265.97" fill="#111"/>
<line x1="471.6" y1="263.7" x2="497" y2="263.7" stroke="#111" stroke-width="1.8"/>
<polygon points="485.9,255.9 486.58,257.57 488.37,257.7 486.99,258.86 487.43,260.6 485.9,259.65 484.37,260.6 484.81,258.86 483.43,257.7 485.22,257.57" fill="#111"/>
<polygon points="490.9,255.9 491.58,257.57 493.37,257.7 491.99,258.86 492.43,260.6 490.9,259.65 489.37,260.6 489.81,258.86 488.43,257.7 490.22,257.57" fill="#111"/>
<line x1="470.5" y1="272.1" x2="483.5" y2="272.1" stroke="#111" stroke-width="1.8"/>
<polygon points="476.8,264.3 477.48,265.97 479.27,266.1 477.89,267.26 478.33,269 476.8,268.05 475.27,269 475.71,267.26 474.33,266.1 476.12,265.97" fill="#111"/>
<line x1="442" y1="255.4" x2="484" y2="255.4" stroke="#111" stroke-width="1.8"/>
<polygon points="466.5,247.6 467.18,249.27 468.97,249.4 467.59,250.56 468.03,252.3 466.5,251.35 464.97,252.3 465.41,250.56 464.03,249.4 465.82,249.27" fill="#111"/>
<polygon points="471.5,247.6 472.18,249.27 473.97,249.4 472.59,250.56 473.03,252.3 471.5,251.35 469.97,252.3 470.41,250.56 469.03,249.4 470.82,249.27" fill="#111"/>
<line x1="456" y1="246.4" x2="499.1" y2="246.4" stroke="#111" stroke-width="1.8"/>
<polygon points="475,238.6 475.68,240.27 477.47,240.4 476.09,241.56 476.53,243.3 475,242.35 473.47,243.3 473.91,241.56 472.53,240.4 474.32,240.27" fill="#111"/>
<polygon points="480,238.6 480.68,240.27 482.47,240.4 481.09,241.56 481.53,243.3 480,242.35 478.47,243.3 478.91,241.56 477.53,240.4 479.32,240.27" fill="#111"/>
<line x1="43.8" y1="477.2" x2="43.8" y2="558.3" stroke="#111" stroke-width="1.6"/>
<line x1="40.8" y1="477.9" x2="43.8" y2="477.9" stroke="#111" stroke-width="1.5"/>
<text x="40.4" y="480.8" font-size="8" text-anchor="end" font-weight="bold" font-style="normal" >50</text>
<line x1="40.8" y1="493.8" x2="43.8" y2="493.8" stroke="#111" stroke-width="1.5"/>
<text x="40.4" y="496.7" font-size="8" text-anchor="end" font-weight="bold" font-style="normal" >40</text>
<line x1="40.8" y1="509.9" x2="43.8" y2="509.9" stroke="#111" stroke-width="1.5"/>
<text x="40.4" y="512.8" font-size="8" text-anchor="end" font-weight="bold" font-style="normal" >30</text>
<line x1="40.8" y1="526.1" x2="43.8" y2="526.1" stroke="#111" stroke-width="1.5"/>
<text x="40.4" y="529" font-size="8" text-anchor="end" font-weight="bold" font-style="normal" >20</text>
<line x1="40.8" y1="541.9" x2="43.8" y2="541.9" stroke="#111" stroke-width="1.5"/>
<text x="40.4" y="544.8" font-size="8" text-anchor="end" font-weight="bold" font-style="normal" >10</text>
<line x1="40.8" y1="557.6" x2="43.8" y2="557.6" stroke="#111" stroke-width="1.5"/>
<text x="40.4" y="560.5" font-size="8" text-anchor="end" font-weight="bold" font-style="normal" >0</text>
<line x1="52.4" y1="566.8" x2="177.3" y2="566.8" stroke="#111" stroke-width="1.7"/>
<line x1="59.2" y1="566.8" x2="59.2" y2="569.7" stroke="#111" stroke-width="1.6"/>
<text x="59.2" y="577.3" font-size="8.2" text-anchor="middle" font-weight="bold" font-style="normal" >0</text>
<line x1="71.3" y1="566.8" x2="71.3" y2="569.7" stroke="#111" stroke-width="1.6"/>
<text x="71.3" y="577.3" font-size="8.2" text-anchor="middle" font-weight="bold" font-style="normal" >24</text>
<line x1="82.9" y1="566.8" x2="82.9" y2="569.7" stroke="#111" stroke-width="1.6"/>
<text x="82.9" y="577.3" font-size="8.2" text-anchor="middle" font-weight="bold" font-style="normal" >48</text>
<line x1="102.6" y1="566.8" x2="102.6" y2="569.7" stroke="#111" stroke-width="1.6"/>
<text x="102.6" y="577.3" font-size="8.2" text-anchor="middle" font-weight="bold" font-style="normal" >0</text>
<line x1="114.8" y1="566.8" x2="114.8" y2="569.7" stroke="#111" stroke-width="1.6"/>
<text x="114.8" y="577.3" font-size="8.2" text-anchor="middle" font-weight="bold" font-style="normal" >24</text>
<line x1="126.4" y1="566.8" x2="126.4" y2="569.7" stroke="#111" stroke-width="1.6"/>
<text x="126.4" y="577.3" font-size="8.2" text-anchor="middle" font-weight="bold" font-style="normal" >48</text>
<line x1="146.2" y1="566.8" x2="146.2" y2="569.7" stroke="#111" stroke-width="1.6"/>
<text x="146.2" y="577.3" font-size="8.2" text-anchor="middle" font-weight="bold" font-style="normal" >0</text>
<line x1="158.2" y1="566.8" x2="158.2" y2="569.7" stroke="#111" stroke-width="1.6"/>
<text x="158.2" y="577.3" font-size="8.2" text-anchor="middle" font-weight="bold" font-style="normal" >24</text>
<line x1="170.1" y1="566.8" x2="170.1" y2="569.7" stroke="#111" stroke-width="1.6"/>
<text x="170.1" y="577.3" font-size="8.2" text-anchor="middle" font-weight="bold" font-style="normal" >48</text>
<rect x="53.75" y="539.25" width="5.5" height="5.5" fill="#5252e4"/>
<rect x="57.25" y="539.25" width="5.5" height="5.5" fill="#5252e4"/>
<rect x="60.75" y="540.25" width="5.5" height="5.5" fill="#5252e4"/>
<rect x="57.05" y="534.95" width="4.3" height="4.3" fill="#fff" stroke="#4a4ad8" stroke-width="1.3"/>
<rect x="49.65" y="541.35" width="4.3" height="4.3" fill="#fff" stroke="#4a4ad8" stroke-width="1.3"/>
<rect x="52.65" y="547.35" width="4.3" height="4.3" fill="#fff" stroke="#4a4ad8" stroke-width="1.3"/>
<rect x="56.85" y="546.85" width="4.3" height="4.3" fill="#fff" stroke="#4a4ad8" stroke-width="1.3"/>
<rect x="60.85" y="547.35" width="4.3" height="4.3" fill="#fff" stroke="#4a4ad8" stroke-width="1.3"/>
<rect x="57.05" y="552.05" width="4.3" height="4.3" fill="#fff" stroke="#4a4ad8" stroke-width="1.3"/>
<rect x="68.95" y="490.55" width="4.7" height="4.7" fill="#5454e6"/>
<rect x="68.95" y="512.65" width="4.7" height="4.7" fill="#5454e6"/>
<rect x="68.95" y="528.85" width="4.7" height="4.7" fill="#5454e6"/>
<rect x="68.95" y="544.05" width="4.7" height="4.7" fill="#5454e6"/>
<rect x="83.9" y="484.6" width="4.6" height="4.6" fill="#4a4ad0" stroke="#1c1c5a" stroke-width="1.3"/>
<rect x="80.6" y="490.6" width="4.6" height="4.6" fill="#4a4ad0" stroke="#1c1c5a" stroke-width="1.3"/>
<rect x="80.6" y="530.1" width="4.6" height="4.6" fill="#4a4ad0" stroke="#1c1c5a" stroke-width="1.3"/>
<rect x="80.6" y="544.5" width="4.6" height="4.6" fill="#4a4ad0" stroke="#1c1c5a" stroke-width="1.3"/>
<polygon points="99.5,543.1 105.9,543.1 102.7,548.9" fill="#16b416" stroke="none" stroke-width="0" stroke-linejoin="miter"/>
<polygon points="96.3,547.1 102.7,547.1 99.5,552.9" fill="#16b416" stroke="none" stroke-width="0" stroke-linejoin="miter"/>
<polygon points="102.8,547.1 109.2,547.1 106,552.9" fill="#16b416" stroke="none" stroke-width="0" stroke-linejoin="miter"/>
<polygon points="99.5,551.1 105.9,551.1 102.7,556.9" fill="#16b416" stroke="none" stroke-width="0" stroke-linejoin="miter"/>
<polygon points="99.5,547.6 105.9,547.6 102.7,553.4" fill="#16b416" stroke="none" stroke-width="0" stroke-linejoin="miter"/>
<circle cx="100.3" cy="550" r="0.8" fill="#fff" opacity="0.85"/>
<circle cx="105.2" cy="550" r="0.8" fill="#fff" opacity="0.85"/>
<circle cx="102.7" cy="553.2" r="0.8" fill="#fff" opacity="0.85"/>
<circle cx="102.7" cy="546" r="0.8" fill="#fff" opacity="0.85"/>
<polygon points="112.1,516.45 117.5,516.45 114.8,521.35" fill="#22aa22" stroke="none" stroke-width="0" stroke-linejoin="miter"/>
<polygon points="105.2,534.45 110.6,534.45 107.9,539.35" fill="#22aa22" stroke="none" stroke-width="0" stroke-linejoin="miter"/>
<polygon points="112.1,537.95 117.5,537.95 114.8,542.85" fill="#22aa22" stroke="none" stroke-width="0" stroke-linejoin="miter"/>
<polygon points="112.1,545.15 117.5,545.15 114.8,550.05" fill="#22aa22" stroke="none" stroke-width="0" stroke-linejoin="miter"/>
<polygon points="124.1,490.7 128.7,490.7 126.4,494.9" fill="#5f825f" stroke="#061006" stroke-width="1.4" stroke-linejoin="miter"/>
<polygon points="124.1,538 128.7,538 126.4,542.2" fill="#5f825f" stroke="#061006" stroke-width="1.4" stroke-linejoin="miter"/>
<polygon points="128.3,541.9 132.9,541.9 130.6,546.1" fill="#5f825f" stroke="#061006" stroke-width="1.4" stroke-linejoin="miter"/>
<polygon points="124.1,546.4 128.7,546.4 126.4,550.6" fill="#5f825f" stroke="#061006" stroke-width="1.4" stroke-linejoin="miter"/>
<circle cx="146.5" cy="548.5" r="2.7" fill="#ea1018"/>
<circle cx="144.5" cy="550" r="2.7" fill="#ea1018"/>
<circle cx="148.5" cy="550" r="2.7" fill="#ea1018"/>
<circle cx="139.6" cy="538.3" r="1.9" fill="#fff" stroke="#d41428" stroke-width="1.3"/>
<circle cx="146.5" cy="544" r="1.9" fill="#fff" stroke="#d41428" stroke-width="1.3"/>
<circle cx="143.5" cy="552.5" r="1.9" fill="#fff" stroke="#d41428" stroke-width="1.3"/>
<circle cx="146.5" cy="553.2" r="1.9" fill="#fff" stroke="#d41428" stroke-width="1.3"/>
<circle cx="150" cy="552.5" r="1.9" fill="#fff" stroke="#d41428" stroke-width="1.3"/>
<circle cx="155.2" cy="549.4" r="2.5" fill="#e61020"/>
<circle cx="158.2" cy="548" r="2.5" fill="#e61020"/>
<circle cx="161.8" cy="550.9" r="2.5" fill="#e61020"/>
<circle cx="158.2" cy="554.5" r="2.5" fill="#e61020"/>
<circle cx="164.2" cy="542.6" r="2.0" fill="#a81424" stroke="#300004" stroke-width="1.3"/>
<circle cx="170.4" cy="547.3" r="2.0" fill="#a81424" stroke="#300004" stroke-width="1.3"/>
<circle cx="173.7" cy="552.7" r="2.0" fill="#a81424" stroke="#300004" stroke-width="1.3"/>
<circle cx="170.4" cy="554.5" r="2.0" fill="#a81424" stroke="#300004" stroke-width="1.3"/>
<line x1="66.8" y1="520.7" x2="75.8" y2="520.7" stroke="#111" stroke-width="1.5"/>
<line x1="79" y1="514.4" x2="87.4" y2="514.4" stroke="#111" stroke-width="1.5"/>
<line x1="110.8" y1="536.5" x2="118.7" y2="536.5" stroke="#111" stroke-width="1.5"/>
<line x1="122.3" y1="531.8" x2="131.3" y2="531.8" stroke="#111" stroke-width="1.5"/>
<line x1="142" y1="548.5" x2="150" y2="548.5" stroke="#111" stroke-width="1.5"/>
<line x1="166.5" y1="549.1" x2="174" y2="549.1" stroke="#111" stroke-width="1.5"/>
<line x1="53.9" y1="463.6" x2="79.1" y2="463.6" stroke="#111" stroke-width="1.8"/>
<polygon points="64.5,455.8 65.18,457.47 66.97,457.6 65.59,458.76 66.03,460.5 64.5,459.55 62.97,460.5 63.41,458.76 62.03,457.6 63.82,457.47" fill="#111"/>
<polygon points="69.5,455.8 70.18,457.47 71.97,457.6 70.59,458.76 71.03,460.5 69.5,459.55 67.97,460.5 68.41,458.76 67.03,457.6 68.82,457.47" fill="#111"/>
<polygon points="74.5,455.8 75.18,457.47 76.97,457.6 75.59,458.76 76.03,460.5 74.5,459.55 72.97,460.5 73.41,458.76 72.03,457.6 73.82,457.47" fill="#111"/>
<line x1="53.1" y1="471.9" x2="67.7" y2="471.9" stroke="#111" stroke-width="1.8"/>
<polygon points="57.9,464.1 58.58,465.77 60.37,465.9 58.99,467.06 59.43,468.8 57.9,467.85 56.37,468.8 56.81,467.06 55.43,465.9 57.22,465.77" fill="#111"/>
<polygon points="62.9,464.1 63.58,465.77 65.37,465.9 63.99,467.06 64.43,468.8 62.9,467.85 61.37,468.8 61.81,467.06 60.43,465.9 62.22,465.77" fill="#111"/>
<line x1="101.9" y1="463.6" x2="124" y2="463.6" stroke="#111" stroke-width="1.8"/>
<polygon points="111.2,455.8 111.88,457.47 113.67,457.6 112.29,458.76 112.73,460.5 111.2,459.55 109.67,460.5 110.11,458.76 108.73,457.6 110.52,457.47" fill="#111"/>
<polygon points="116.2,455.8 116.88,457.47 118.67,457.6 117.29,458.76 117.73,460.5 116.2,459.55 114.67,460.5 115.11,458.76 113.73,457.6 115.52,457.47" fill="#111"/>
<polygon points="121.2,455.8 121.88,457.47 123.67,457.6 122.29,458.76 122.73,460.5 121.2,459.55 119.67,460.5 120.11,458.76 118.73,457.6 120.52,457.47" fill="#111"/>
<line x1="101.4" y1="471.9" x2="113.6" y2="471.9" stroke="#111" stroke-width="1.8"/>
<polygon points="102.6,464.1 103.28,465.77 105.07,465.9 103.69,467.06 104.13,468.8 102.6,467.85 101.07,468.8 101.51,467.06 100.13,465.9 101.92,465.77" fill="#111"/>
<polygon points="107.6,464.1 108.28,465.77 110.07,465.9 108.69,467.06 109.13,468.8 107.6,467.85 106.07,468.8 106.51,467.06 105.13,465.9 106.92,465.77" fill="#111"/>
<polygon points="112.6,464.1 113.28,465.77 115.07,465.9 113.69,467.06 114.13,468.8 112.6,467.85 111.07,468.8 111.51,467.06 110.13,465.9 111.92,465.77" fill="#111"/>
<line x1="142.2" y1="463.6" x2="168.9" y2="463.6" stroke="#111" stroke-width="1.8"/>
<text transform="translate(159.6,461.1) scale(1.13,1)" font-size="7.9" text-anchor="middle" font-weight="bold">ns</text>
<line x1="141.4" y1="471.9" x2="155.1" y2="471.9" stroke="#111" stroke-width="1.8"/>
<text transform="translate(148.6,469.4) scale(1.13,1)" font-size="7.9" text-anchor="middle" font-weight="bold">ns</text>
<line x1="112.8" y1="455.2" x2="155.1" y2="455.2" stroke="#111" stroke-width="1.8"/>
<text transform="translate(133.6,452.7) scale(1.13,1)" font-size="7.9" text-anchor="middle" font-weight="bold">ns</text>
<line x1="127.1" y1="446.7" x2="169.9" y2="446.7" stroke="#111" stroke-width="1.8"/>
<text transform="translate(147.4,444.2) scale(1.13,1)" font-size="7.9" text-anchor="middle" font-weight="bold">ns</text>
<line x1="210.6" y1="476.7" x2="210.6" y2="557.1" stroke="#111" stroke-width="1.6"/>
<line x1="207.6" y1="477.4" x2="210.6" y2="477.4" stroke="#111" stroke-width="1.5"/>
<text x="207.2" y="480.3" font-size="8" text-anchor="end" font-weight="bold" font-style="normal" >2.0</text>
<line x1="207.6" y1="497.2" x2="210.6" y2="497.2" stroke="#111" stroke-width="1.5"/>
<text x="207.2" y="500.1" font-size="8" text-anchor="end" font-weight="bold" font-style="normal" >1.5</text>
<line x1="207.6" y1="517.2" x2="210.6" y2="517.2" stroke="#111" stroke-width="1.5"/>
<text x="207.2" y="520.1" font-size="8" text-anchor="end" font-weight="bold" font-style="normal" >1.0</text>
<line x1="207.6" y1="537" x2="210.6" y2="537" stroke="#111" stroke-width="1.5"/>
<text x="207.2" y="539.9" font-size="8" text-anchor="end" font-weight="bold" font-style="normal" >0.5</text>
<line x1="207.6" y1="556.4" x2="210.6" y2="556.4" stroke="#111" stroke-width="1.5"/>
<text x="207.2" y="559.3" font-size="8" text-anchor="end" font-weight="bold" font-style="normal" >0.0</text>
<line x1="219.3" y1="565.3" x2="343.6" y2="565.3" stroke="#111" stroke-width="1.7"/>
<line x1="225.4" y1="565.3" x2="225.4" y2="568.2" stroke="#111" stroke-width="1.6"/>
<text x="225.4" y="575.8" font-size="8.2" text-anchor="middle" font-weight="bold" font-style="normal" >0</text>
<line x1="237.7" y1="565.3" x2="237.7" y2="568.2" stroke="#111" stroke-width="1.6"/>
<text x="237.7" y="575.8" font-size="8.2" text-anchor="middle" font-weight="bold" font-style="normal" >24</text>
<line x1="249.6" y1="565.3" x2="249.6" y2="568.2" stroke="#111" stroke-width="1.6"/>
<text x="249.6" y="575.8" font-size="8.2" text-anchor="middle" font-weight="bold" font-style="normal" >48</text>
<line x1="269.2" y1="565.3" x2="269.2" y2="568.2" stroke="#111" stroke-width="1.6"/>
<text x="269.2" y="575.8" font-size="8.2" text-anchor="middle" font-weight="bold" font-style="normal" >0</text>
<line x1="281.5" y1="565.3" x2="281.5" y2="568.2" stroke="#111" stroke-width="1.6"/>
<text x="281.5" y="575.8" font-size="8.2" text-anchor="middle" font-weight="bold" font-style="normal" >24</text>
<line x1="293" y1="565.3" x2="293" y2="568.2" stroke="#111" stroke-width="1.6"/>
<text x="293" y="575.8" font-size="8.2" text-anchor="middle" font-weight="bold" font-style="normal" >48</text>
<line x1="312.5" y1="565.3" x2="312.5" y2="568.2" stroke="#111" stroke-width="1.6"/>
<text x="312.5" y="575.8" font-size="8.2" text-anchor="middle" font-weight="bold" font-style="normal" >0</text>
<line x1="324.8" y1="565.3" x2="324.8" y2="568.2" stroke="#111" stroke-width="1.6"/>
<text x="324.8" y="575.8" font-size="8.2" text-anchor="middle" font-weight="bold" font-style="normal" >24</text>
<line x1="336.8" y1="565.3" x2="336.8" y2="568.2" stroke="#111" stroke-width="1.6"/>
<text x="336.8" y="575.8" font-size="8.2" text-anchor="middle" font-weight="bold" font-style="normal" >48</text>
<rect x="222.75" y="545.75" width="5.5" height="5.5" fill="#5252e4"/>
<rect x="219.55" y="552.05" width="5.5" height="5.5" fill="#5252e4"/>
<rect x="222.75" y="552.05" width="5.5" height="5.5" fill="#5252e4"/>
<rect x="226.25" y="552.05" width="5.5" height="5.5" fill="#5252e4"/>
<rect x="216.75" y="544.75" width="4.3" height="4.3" fill="#fff" stroke="#4a4ad8" stroke-width="1.3"/>
<rect x="235.35" y="520.65" width="4.7" height="4.7" fill="#5454e6"/>
<rect x="235.35" y="531.85" width="4.7" height="4.7" fill="#5454e6"/>
<rect x="239.05" y="538.45" width="4.7" height="4.7" fill="#5454e6"/>
<rect x="235.35" y="542.05" width="4.7" height="4.7" fill="#5454e6"/>
<rect x="247.3" y="493.2" width="4.6" height="4.6" fill="#4a4ad0" stroke="#1c1c5a" stroke-width="1.3"/>
<rect x="247.3" y="502.6" width="4.6" height="4.6" fill="#4a4ad0" stroke="#1c1c5a" stroke-width="1.3"/>
<rect x="247.3" y="527" width="4.6" height="4.6" fill="#4a4ad0" stroke="#1c1c5a" stroke-width="1.3"/>
<rect x="247.3" y="540.5" width="4.6" height="4.6" fill="#4a4ad0" stroke="#1c1c5a" stroke-width="1.3"/>
<polygon points="263.3,549.6 269.7,549.6 266.5,555.4" fill="#16b416" stroke="none" stroke-width="0" stroke-linejoin="miter"/>
<polygon points="266,548.6 272.4,548.6 269.2,554.4" fill="#16b416" stroke="none" stroke-width="0" stroke-linejoin="miter"/>
<polygon points="268.8,549.6 275.2,549.6 272,555.4" fill="#16b416" stroke="none" stroke-width="0" stroke-linejoin="miter"/>
<polygon points="266,551.6 272.4,551.6 269.2,557.4" fill="#16b416" stroke="none" stroke-width="0" stroke-linejoin="miter"/>
<polygon points="266.7,534.45 271.7,534.45 269.2,538.95" fill="#fff" stroke="#1aa21a" stroke-width="1.4" stroke-linejoin="miter"/>
<polygon points="278.8,528.75 284.2,528.75 281.5,533.65" fill="#22aa22" stroke="none" stroke-width="0" stroke-linejoin="miter"/>
<polygon points="275.1,532.95 280.5,532.95 277.8,537.85" fill="#22aa22" stroke="none" stroke-width="0" stroke-linejoin="miter"/>
<polygon points="281.5,536.95 286.9,536.95 284.2,541.85" fill="#22aa22" stroke="none" stroke-width="0" stroke-linejoin="miter"/>
<polygon points="278.8,539.15 284.2,539.15 281.5,544.05" fill="#22aa22" stroke="none" stroke-width="0" stroke-linejoin="miter"/>
<polygon points="290.7,505.9 295.3,505.9 293,510.1" fill="#5f825f" stroke="#061006" stroke-width="1.4" stroke-linejoin="miter"/>
<polygon points="290.7,523.6 295.3,523.6 293,527.8" fill="#5f825f" stroke="#061006" stroke-width="1.4" stroke-linejoin="miter"/>
<polygon points="294.4,532.2 299,532.2 296.7,536.4" fill="#5f825f" stroke="#061006" stroke-width="1.4" stroke-linejoin="miter"/>
<polygon points="290.7,535.9 295.3,535.9 293,540.1" fill="#5f825f" stroke="#061006" stroke-width="1.4" stroke-linejoin="miter"/>
<circle cx="310.3" cy="555" r="2.7" fill="#ea1018"/>
<circle cx="312.8" cy="554" r="2.7" fill="#ea1018"/>
<circle cx="315.3" cy="555" r="2.7" fill="#ea1018"/>
<circle cx="312.8" cy="556.2" r="2.7" fill="#ea1018"/>
<circle cx="321.5" cy="552.5" r="2.5" fill="#e61020"/>
<circle cx="324.8" cy="551" r="2.5" fill="#e61020"/>
<circle cx="327.8" cy="552.5" r="2.5" fill="#e61020"/>
<circle cx="324.8" cy="553.5" r="2.5" fill="#e61020"/>
<circle cx="336.8" cy="541.6" r="2.0" fill="#a81424" stroke="#300004" stroke-width="1.3"/>
<circle cx="333.6" cy="550" r="2.0" fill="#a81424" stroke="#300004" stroke-width="1.3"/>
<circle cx="339.4" cy="553.1" r="2.0" fill="#a81424" stroke="#300004" stroke-width="1.3"/>
<circle cx="336.8" cy="554.4" r="2.0" fill="#a81424" stroke="#300004" stroke-width="1.3"/>
<line x1="233.6" y1="535.8" x2="241.9" y2="535.8" stroke="#111" stroke-width="1.5"/>
<line x1="245.1" y1="518.1" x2="253.9" y2="518.1" stroke="#111" stroke-width="1.5"/>
<line x1="278" y1="537.6" x2="286" y2="537.6" stroke="#111" stroke-width="1.5"/>
<line x1="288.8" y1="527" x2="297.4" y2="527" stroke="#111" stroke-width="1.5"/>
<line x1="334" y1="550.4" x2="341" y2="550.4" stroke="#111" stroke-width="1.5"/>
<line x1="217.8" y1="462.3" x2="242.5" y2="462.3" stroke="#111" stroke-width="1.8"/>
<polygon points="227.8,454.5 228.48,456.17 230.27,456.3 228.89,457.46 229.33,459.2 227.8,458.25 226.27,459.2 226.71,457.46 225.33,456.3 227.12,456.17" fill="#111"/>
<polygon points="232.8,454.5 233.48,456.17 235.27,456.3 233.89,457.46 234.33,459.2 232.8,458.25 231.27,459.2 231.71,457.46 230.33,456.3 232.12,456.17" fill="#111"/>
<polygon points="237.8,454.5 238.48,456.17 240.27,456.3 238.89,457.46 239.33,459.2 237.8,458.25 236.27,459.2 236.71,457.46 235.33,456.3 237.12,456.17" fill="#111"/>
<line x1="217.3" y1="470.6" x2="231.3" y2="470.6" stroke="#111" stroke-width="1.8"/>
<polygon points="219.3,462.8 219.98,464.47 221.77,464.6 220.39,465.76 220.83,467.5 219.3,466.55 217.77,467.5 218.21,465.76 216.83,464.6 218.62,464.47" fill="#111"/>
<polygon points="224.3,462.8 224.98,464.47 226.77,464.6 225.39,465.76 225.83,467.5 224.3,466.55 222.77,467.5 223.21,465.76 221.83,464.6 223.62,464.47" fill="#111"/>
<polygon points="229.3,462.8 229.98,464.47 231.77,464.6 230.39,465.76 230.83,467.5 229.3,466.55 227.77,467.5 228.21,465.76 226.83,464.6 228.62,464.47" fill="#111"/>
<line x1="265.8" y1="462.3" x2="287.4" y2="462.3" stroke="#111" stroke-width="1.8"/>
<polygon points="275.1,454.5 275.78,456.17 277.57,456.3 276.19,457.46 276.63,459.2 275.1,458.25 273.57,459.2 274.01,457.46 272.63,456.3 274.42,456.17" fill="#111"/>
<polygon points="280.1,454.5 280.78,456.17 282.57,456.3 281.19,457.46 281.63,459.2 280.1,458.25 278.57,459.2 279.01,457.46 277.63,456.3 279.42,456.17" fill="#111"/>
<polygon points="285.1,454.5 285.78,456.17 287.57,456.3 286.19,457.46 286.63,459.2 285.1,458.25 283.57,459.2 284.01,457.46 282.63,456.3 284.42,456.17" fill="#111"/>
<line x1="265.3" y1="470.6" x2="277" y2="470.6" stroke="#111" stroke-width="1.8"/>
<polygon points="269.3,462.8 269.98,464.47 271.77,464.6 270.39,465.76 270.83,467.5 269.3,466.55 267.77,467.5 268.21,465.76 266.83,464.6 268.62,464.47" fill="#111"/>
<polygon points="274.3,462.8 274.98,464.47 276.77,464.6 275.39,465.76 275.83,467.5 274.3,466.55 272.77,467.5 273.21,465.76 271.83,464.6 273.62,464.47" fill="#111"/>
<line x1="306.6" y1="462.3" x2="332.5" y2="462.3" stroke="#111" stroke-width="1.8"/>
<polygon points="322.1,454.5 322.78,456.17 324.57,456.3 323.19,457.46 323.63,459.2 322.1,458.25 320.57,459.2 321.01,457.46 319.63,456.3 321.42,456.17" fill="#111"/>
<line x1="305.5" y1="470.6" x2="318.5" y2="470.6" stroke="#111" stroke-width="1.8"/>
<polygon points="306.8,462.8 307.48,464.47 309.27,464.6 307.89,465.76 308.33,467.5 306.8,466.55 305.27,467.5 305.71,465.76 304.33,464.6 306.12,464.47" fill="#111"/>
<polygon points="311.8,462.8 312.48,464.47 314.27,464.6 312.89,465.76 313.33,467.5 311.8,466.55 310.27,467.5 310.71,465.76 309.33,464.6 311.12,464.47" fill="#111"/>
<polygon points="316.8,462.8 317.48,464.47 319.27,464.6 317.89,465.76 318.33,467.5 316.8,466.55 315.27,467.5 315.71,465.76 314.33,464.6 316.12,464.47" fill="#111"/>
<line x1="277" y1="453.7" x2="319.6" y2="453.7" stroke="#111" stroke-width="1.8"/>
<polygon points="295.2,445.9 295.88,447.57 297.67,447.7 296.29,448.86 296.73,450.6 295.2,449.65 293.67,450.6 294.11,448.86 292.73,447.7 294.52,447.57" fill="#111"/>
<polygon points="300.2,445.9 300.88,447.57 302.67,447.7 301.29,448.86 301.73,450.6 300.2,449.65 298.67,450.6 299.11,448.86 297.73,447.7 299.52,447.57" fill="#111"/>
<line x1="291" y1="444.9" x2="334.1" y2="444.9" stroke="#111" stroke-width="1.8"/>
<polygon points="310.7,437.1 311.38,438.77 313.17,438.9 311.79,440.06 312.23,441.8 310.7,440.85 309.17,441.8 309.61,440.06 308.23,438.9 310.02,438.77" fill="#111"/>
<line x1="371.5" y1="476.2" x2="371.5" y2="556.6" stroke="#111" stroke-width="1.6"/>
<line x1="368.5" y1="476.9" x2="371.5" y2="476.9" stroke="#111" stroke-width="1.5"/>
<text x="368.1" y="479.8" font-size="8" text-anchor="end" font-weight="bold" font-style="normal" >30</text>
<line x1="368.5" y1="502.9" x2="371.5" y2="502.9" stroke="#111" stroke-width="1.5"/>
<text x="368.1" y="505.8" font-size="8" text-anchor="end" font-weight="bold" font-style="normal" >20</text>
<line x1="368.5" y1="529.6" x2="371.5" y2="529.6" stroke="#111" stroke-width="1.5"/>
<text x="368.1" y="532.5" font-size="8" text-anchor="end" font-weight="bold" font-style="normal" >10</text>
<line x1="368.5" y1="555.9" x2="371.5" y2="555.9" stroke="#111" stroke-width="1.5"/>
<text x="368.1" y="558.8" font-size="8" text-anchor="end" font-weight="bold" font-style="normal" >0</text>
<line x1="380" y1="564.7" x2="504.1" y2="564.7" stroke="#111" stroke-width="1.7"/>
<line x1="386.3" y1="564.7" x2="386.3" y2="567.6" stroke="#111" stroke-width="1.6"/>
<text x="386.3" y="575.2" font-size="8.2" text-anchor="middle" font-weight="bold" font-style="normal" >0</text>
<line x1="398.1" y1="564.7" x2="398.1" y2="567.6" stroke="#111" stroke-width="1.6"/>
<text x="398.1" y="575.2" font-size="8.2" text-anchor="middle" font-weight="bold" font-style="normal" >24</text>
<line x1="410.6" y1="564.7" x2="410.6" y2="567.6" stroke="#111" stroke-width="1.6"/>
<text x="410.6" y="575.2" font-size="8.2" text-anchor="middle" font-weight="bold" font-style="normal" >48</text>
<line x1="429.6" y1="564.7" x2="429.6" y2="567.6" stroke="#111" stroke-width="1.6"/>
<text x="429.6" y="575.2" font-size="8.2" text-anchor="middle" font-weight="bold" font-style="normal" >0</text>
<line x1="442" y1="564.7" x2="442" y2="567.6" stroke="#111" stroke-width="1.6"/>
<text x="442" y="575.2" font-size="8.2" text-anchor="middle" font-weight="bold" font-style="normal" >24</text>
<line x1="453.7" y1="564.7" x2="453.7" y2="567.6" stroke="#111" stroke-width="1.6"/>
<text x="453.7" y="575.2" font-size="8.2" text-anchor="middle" font-weight="bold" font-style="normal" >48</text>
<line x1="473.5" y1="564.7" x2="473.5" y2="567.6" stroke="#111" stroke-width="1.6"/>
<text x="473.5" y="575.2" font-size="8.2" text-anchor="middle" font-weight="bold" font-style="normal" >0</text>
<line x1="485.3" y1="564.7" x2="485.3" y2="567.6" stroke="#111" stroke-width="1.6"/>
<text x="485.3" y="575.2" font-size="8.2" text-anchor="middle" font-weight="bold" font-style="normal" >24</text>
<line x1="497.6" y1="564.7" x2="497.6" y2="567.6" stroke="#111" stroke-width="1.6"/>
<text x="497.6" y="575.2" font-size="8.2" text-anchor="middle" font-weight="bold" font-style="normal" >48</text>
<rect x="384.25" y="545.25" width="5.5" height="5.5" fill="#5252e4"/>
<rect x="387.25" y="546.75" width="5.5" height="5.5" fill="#5252e4"/>
<rect x="383.25" y="548.75" width="5.5" height="5.5" fill="#5252e4"/>
<rect x="384.65" y="532.25" width="4.3" height="4.3" fill="#fff" stroke="#4a4ad8" stroke-width="1.3"/>
<rect x="388.35" y="537.55" width="4.3" height="4.3" fill="#fff" stroke="#4a4ad8" stroke-width="1.3"/>
<rect x="377.55" y="541.25" width="4.3" height="4.3" fill="#fff" stroke="#4a4ad8" stroke-width="1.3"/>
<rect x="383.05" y="541.25" width="4.3" height="4.3" fill="#fff" stroke="#4a4ad8" stroke-width="1.3"/>
<rect x="380.35" y="546.85" width="4.3" height="4.3" fill="#fff" stroke="#4a4ad8" stroke-width="1.3"/>
<rect x="395.75" y="509.15" width="4.7" height="4.7" fill="#5454e6"/>
<rect x="395.75" y="529.35" width="4.7" height="4.7" fill="#5454e6"/>
<rect x="395.75" y="537.15" width="4.7" height="4.7" fill="#5454e6"/>
<rect x="395.75" y="546.95" width="4.7" height="4.7" fill="#5454e6"/>
<rect x="408.3" y="487.1" width="4.6" height="4.6" fill="#4a4ad0" stroke="#1c1c5a" stroke-width="1.3"/>
<rect x="408.3" y="508.9" width="4.6" height="4.6" fill="#4a4ad0" stroke="#1c1c5a" stroke-width="1.3"/>
<rect x="408.3" y="533.9" width="4.6" height="4.6" fill="#4a4ad0" stroke="#1c1c5a" stroke-width="1.3"/>
<rect x="408.3" y="547" width="4.6" height="4.6" fill="#4a4ad0" stroke="#1c1c5a" stroke-width="1.3"/>
<polygon points="426.4,536.6 432.8,536.6 429.6,542.4" fill="#16b416" stroke="none" stroke-width="0" stroke-linejoin="miter"/>
<polygon points="423.8,539.6 430.2,539.6 427,545.4" fill="#16b416" stroke="none" stroke-width="0" stroke-linejoin="miter"/>
<polygon points="428.8,539.6 435.2,539.6 432,545.4" fill="#16b416" stroke="none" stroke-width="0" stroke-linejoin="miter"/>
<polygon points="426.4,542.1 432.8,542.1 429.6,547.9" fill="#16b416" stroke="none" stroke-width="0" stroke-linejoin="miter"/>
<polygon points="423.6,544.6 430,544.6 426.8,550.4" fill="#16b416" stroke="none" stroke-width="0" stroke-linejoin="miter"/>
<polygon points="429.2,544.6 435.6,544.6 432.4,550.4" fill="#16b416" stroke="none" stroke-width="0" stroke-linejoin="miter"/>
<polygon points="426.4,546.1 432.8,546.1 429.6,551.9" fill="#16b416" stroke="none" stroke-width="0" stroke-linejoin="miter"/>
<circle cx="427.2" cy="542.2" r="0.8" fill="#fff" opacity="0.85"/>
<circle cx="431.8" cy="542.2" r="0.8" fill="#fff" opacity="0.85"/>
<circle cx="429.6" cy="545" r="0.8" fill="#fff" opacity="0.85"/>
<circle cx="426.8" cy="547.3" r="0.8" fill="#fff" opacity="0.85"/>
<circle cx="432.4" cy="547.3" r="0.8" fill="#fff" opacity="0.85"/>
<circle cx="429.6" cy="549.3" r="0.8" fill="#fff" opacity="0.85"/>
<polygon points="433,534.15 438.4,534.15 435.7,539.05" fill="#22aa22" stroke="none" stroke-width="0" stroke-linejoin="miter"/>
<polygon points="439.3,536.65 444.7,536.65 442,541.55" fill="#22aa22" stroke="none" stroke-width="0" stroke-linejoin="miter"/>
<polygon points="439.3,549.35 444.7,549.35 442,554.25" fill="#22aa22" stroke="none" stroke-width="0" stroke-linejoin="miter"/>
<polygon points="443,546.45 448.4,546.45 445.7,551.35" fill="#22aa22" stroke="none" stroke-width="0" stroke-linejoin="miter"/>
<polygon points="451.4,483.4 456,483.4 453.7,487.6" fill="#5f825f" stroke="#061006" stroke-width="1.4" stroke-linejoin="miter"/>
<polygon points="451.4,535.1 456,535.1 453.7,539.3" fill="#5f825f" stroke="#061006" stroke-width="1.4" stroke-linejoin="miter"/>
<polygon points="455.1,548.3 459.7,548.3 457.4,552.5" fill="#5f825f" stroke="#061006" stroke-width="1.4" stroke-linejoin="miter"/>
<polygon points="451.4,551 456,551 453.7,555.2" fill="#5f825f" stroke="#061006" stroke-width="1.4" stroke-linejoin="miter"/>
<circle cx="473.5" cy="525.2" r="1.9" fill="#fff" stroke="#d41428" stroke-width="1.3"/>
<circle cx="473.5" cy="533.9" r="1.9" fill="#fff" stroke="#d41428" stroke-width="1.3"/>
<circle cx="477.1" cy="539.1" r="1.9" fill="#fff" stroke="#d41428" stroke-width="1.3"/>
<circle cx="467.1" cy="541.6" r="1.9" fill="#fff" stroke="#d41428" stroke-width="1.3"/>
<circle cx="471.3" cy="540.9" r="1.9" fill="#fff" stroke="#d41428" stroke-width="1.3"/>
<circle cx="473.5" cy="544" r="1.9" fill="#fff" stroke="#d41428" stroke-width="1.3"/>
<circle cx="469.8" cy="547.6" r="1.9" fill="#fff" stroke="#d41428" stroke-width="1.3"/>
<circle cx="473.5" cy="548.9" r="1.9" fill="#fff" stroke="#d41428" stroke-width="1.3"/>
<circle cx="477.1" cy="548.9" r="1.9" fill="#fff" stroke="#d41428" stroke-width="1.3"/>
<circle cx="473.8" cy="542.7" r="2.5" fill="#e61020"/>
<circle cx="482" cy="554" r="2.5" fill="#e61020"/>
<circle cx="485.3" cy="553" r="2.5" fill="#e61020"/>
<circle cx="488.5" cy="554" r="2.5" fill="#e61020"/>
<circle cx="485.3" cy="555.5" r="2.5" fill="#e61020"/>
<circle cx="497.6" cy="538.5" r="2.0" fill="#a81424" stroke="#300004" stroke-width="1.3"/>
<circle cx="493.9" cy="550" r="2.0" fill="#a81424" stroke="#300004" stroke-width="1.3"/>
<circle cx="500.5" cy="553.1" r="2.0" fill="#a81424" stroke="#300004" stroke-width="1.3"/>
<circle cx="497.6" cy="555.5" r="2.0" fill="#a81424" stroke="#300004" stroke-width="1.3"/>
<line x1="394.5" y1="532.9" x2="402.7" y2="532.9" stroke="#111" stroke-width="1.5"/>
<line x1="405.2" y1="521.4" x2="414.6" y2="521.4" stroke="#111" stroke-width="1.5"/>
<line x1="437.8" y1="544.5" x2="446.4" y2="544.5" stroke="#111" stroke-width="1.5"/>
<line x1="449.7" y1="531.7" x2="458.3" y2="531.7" stroke="#111" stroke-width="1.5"/>
<line x1="495.4" y1="548.9" x2="501.8" y2="548.9" stroke="#111" stroke-width="1.5"/>
<line x1="384.9" y1="463" x2="408.7" y2="463" stroke="#111" stroke-width="1.8"/>
<polygon points="394.6,455.2 395.28,456.87 397.07,457 395.69,458.16 396.13,459.9 394.6,458.95 393.07,459.9 393.51,458.16 392.13,457 393.92,456.87" fill="#111"/>
<polygon points="399.6,455.2 400.28,456.87 402.07,457 400.69,458.16 401.13,459.9 399.6,458.95 398.07,459.9 398.51,458.16 397.13,457 398.92,456.87" fill="#111"/>
<line x1="383.6" y1="471.3" x2="397.8" y2="471.3" stroke="#111" stroke-width="1.8"/>
<polygon points="390.6,463.5 391.28,465.17 393.07,465.3 391.69,466.46 392.13,468.2 390.6,467.25 389.07,468.2 389.51,466.46 388.13,465.3 389.92,465.17" fill="#111"/>
<line x1="432.6" y1="463" x2="454.2" y2="463" stroke="#111" stroke-width="1.8"/>
<polygon points="438.8,455.2 439.48,456.87 441.27,457 439.89,458.16 440.33,459.9 438.8,458.95 437.27,459.9 437.71,458.16 436.33,457 438.12,456.87" fill="#111"/>
<polygon points="443.8,455.2 444.48,456.87 446.27,457 444.89,458.16 445.33,459.9 443.8,458.95 442.27,459.9 442.71,458.16 441.33,457 443.12,456.87" fill="#111"/>
<polygon points="448.8,455.2 449.48,456.87 451.27,457 449.89,458.16 450.33,459.9 448.8,458.95 447.27,459.9 447.71,458.16 446.33,457 448.12,456.87" fill="#111"/>
<line x1="432.1" y1="471.3" x2="443" y2="471.3" stroke="#111" stroke-width="1.8"/>
<text transform="translate(437.3,468.8) scale(1.13,1)" font-size="7.9" text-anchor="middle" font-weight="bold">ns</text>
<line x1="473.1" y1="463" x2="498.3" y2="463" stroke="#111" stroke-width="1.8"/>
<text transform="translate(491,460.5) scale(1.13,1)" font-size="7.9" text-anchor="middle" font-weight="bold">ns</text>
<line x1="472.4" y1="471.3" x2="485.3" y2="471.3" stroke="#111" stroke-width="1.8"/>
<polygon points="475.6,463.5 476.28,465.17 478.07,465.3 476.69,466.46 477.13,468.2 475.6,467.25 474.07,468.2 474.51,466.46 473.13,465.3 474.92,465.17" fill="#111"/>
<polygon points="480.6,463.5 481.28,465.17 483.07,465.3 481.69,466.46 482.13,468.2 480.6,467.25 479.07,468.2 479.51,466.46 478.13,465.3 479.92,465.17" fill="#111"/>
<line x1="443" y1="454.5" x2="486.1" y2="454.5" stroke="#111" stroke-width="1.8"/>
<text transform="translate(463.8,452) scale(1.13,1)" font-size="7.9" text-anchor="middle" font-weight="bold">ns</text>
<line x1="457.6" y1="445.9" x2="500.9" y2="445.9" stroke="#111" stroke-width="1.8"/>
<text transform="translate(477.5,443.4) scale(1.13,1)" font-size="7.9" text-anchor="middle" font-weight="bold">ns</text>
<text transform="translate(13.8,112.4) rotate(-90)" font-size="10.8" font-weight="bold" text-anchor="middle">Cell number (x 10<tspan dy="-3.8" font-size="7.02">-5</tspan><tspan dy="3.8">)</tspan></text>
<polygon points="26,74.8 21,85 31,85" fill="#000"/>
<line x1="26" y1="84.5" x2="26" y2="161.5" stroke="#000" stroke-width="1.5"/>
<text transform="translate(13.8,313) rotate(-90)" font-size="10.8" font-weight="bold" text-anchor="middle">Cell number (x 10<tspan dy="-3.8" font-size="7.02">-5</tspan><tspan dy="3.8">)</tspan></text>
<polygon points="25.7,272 20.7,282.8 30.7,282.8" fill="#000"/>
<line x1="25.7" y1="282.3" x2="25.7" y2="360" stroke="#000" stroke-width="1.5"/>
<text transform="translate(13.8,512.3) rotate(-90)" font-size="10.4" font-weight="bold" text-anchor="middle">Cell number (x 10<tspan dy="-3.8" font-size="6.76">-5</tspan><tspan dy="3.8">)</tspan></text>
<polygon points="23,474.8 18,485.5 28,485.5" fill="#000"/>
<line x1="23" y1="485" x2="23" y2="561" stroke="#000" stroke-width="1.5"/>
<text x="282.4" y="596" font-size="9.2" text-anchor="middle" font-weight="bold" font-style="normal" >Time (hr)</text>
<rect x="29.6" y="608.8" width="483.9" height="53" fill="none" stroke="#000" stroke-width="1.5"/>
<rect x="36.4" y="616.9" width="7.6" height="6.6" fill="#fff" stroke="#4a4ad8" stroke-width="1.3"/>
<text x="49.6" y="621.3" font-size="8.8" text-anchor="start" font-weight="bold" font-style="normal" >C57BL/6 (time 0)</text>
<rect x="36.1" y="631.2" width="8.1" height="6.1" fill="#5454e6"/>
<text x="49.6" y="634.4" font-size="8.8" text-anchor="start" font-weight="bold" font-style="normal" >C57BL/6 (24 h post injection)</text>
<rect x="36.2" y="644.8" width="8.2" height="6.8" fill="#4a4ad0" stroke="#000" stroke-width="1.4"/>
<text x="48.1" y="648.2" font-size="8.8" text-anchor="start" font-weight="bold" font-style="normal" >C57BL/6 (48 h post injection)</text>
<polygon points="211.2,618.2 219.4,618.2 215.3,624.8" fill="#fff" stroke="#1aa21a" stroke-width="1.5"/>
<polygon points="211.2,632.2 219.3,632.2 215.25,638.8" fill="#22aa22" stroke="none" stroke-width="0"/>
<polygon points="211.3,646.2 219.6,646.2 215.45,653.2" fill="#5f825f" stroke="#000" stroke-width="1.5"/>
<text x="223.7" y="621.5" font-size="8.8" text-anchor="start" font-weight="bold" font-style="normal" >IK<tspan dy="-3.3" font-size="5.4">+/+</tspan><tspan dy="3.3"> Rag</tspan><tspan dy="-3.3" font-size="5.4">-/-</tspan><tspan dy="3.3"> (time 0)</tspan></text>
<text x="223.7" y="635.7" font-size="8.8" text-anchor="start" font-weight="bold" font-style="normal" >IK<tspan dy="-3.3" font-size="5.4">+/+</tspan><tspan dy="3.3"> Rag</tspan><tspan dy="-3.3" font-size="5.4">-/-</tspan><tspan dy="3.3"> (24 h post injection)</tspan></text>
<text x="223.7" y="649.8" font-size="8.8" text-anchor="start" font-weight="bold" font-style="normal" >IK<tspan dy="-3.3" font-size="5.4">+/+</tspan><tspan dy="3.3"> Rag</tspan><tspan dy="-3.3" font-size="5.4">-/-</tspan><tspan dy="3.3">(48 h post injection)</tspan></text>
<ellipse cx="373.6" cy="620.9" rx="3.9" ry="2.9" fill="#fff" stroke="#d41428" stroke-width="1.6"/>
<ellipse cx="373.5" cy="634.4" rx="4.2" ry="3.6" fill="#e61020"/>
<ellipse cx="373.6" cy="648.5" rx="4.0" ry="3.2" fill="#c8101e" stroke="#000" stroke-width="1.6"/>
<text x="383.8" y="621.5" font-size="8.8" text-anchor="start" font-weight="bold" font-style="normal" >IK<tspan dy="-3.3" font-size="5.4">L/L</tspan><tspan dy="3.3"> Rag</tspan><tspan dy="-3.3" font-size="5.4">-/-</tspan><tspan dy="3.3"> (time 0)</tspan></text>
<text x="383.8" y="635.7" font-size="8.8" text-anchor="start" font-weight="bold" font-style="normal" >IK<tspan dy="-3.3" font-size="5.4">L/L</tspan><tspan dy="3.3"> Rag</tspan><tspan dy="-3.3" font-size="5.4">-/-</tspan><tspan dy="3.3"> (24 h post injection)</tspan></text>
<text x="384.3" y="649.4" font-size="8.8" text-anchor="start" font-weight="bold" font-style="normal" >IK<tspan dy="-3.3" font-size="5.4">L/L</tspan><tspan dy="3.3"> Rag</tspan><tspan dy="-3.3" font-size="5.4">-/-</tspan><tspan dy="3.3"> (48 h post injection)</tspan></text>
</svg>
</body></html>
